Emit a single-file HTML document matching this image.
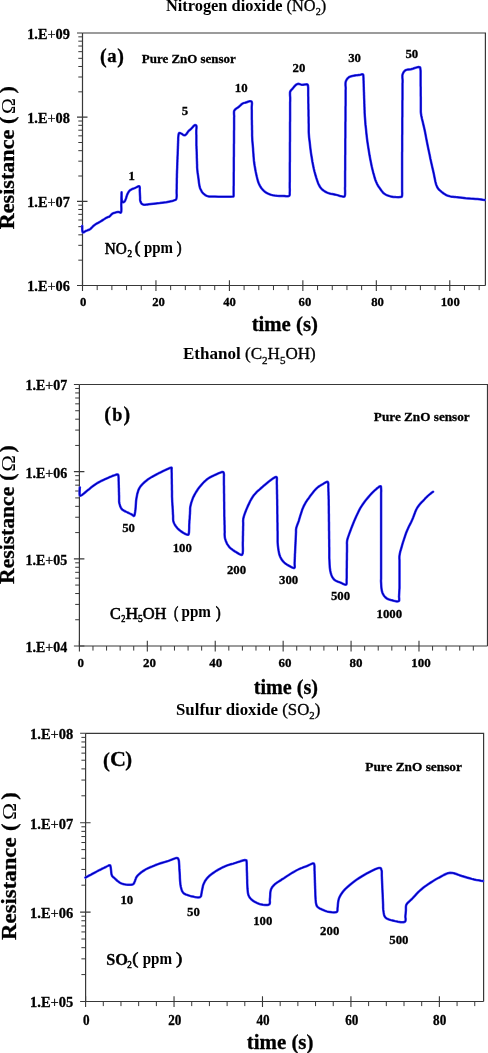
<!DOCTYPE html>
<html><head><meta charset="utf-8"><title>Gas sensor response of pure ZnO sensor</title>
<style>html,body{margin:0;padding:0;background:#fff;overflow:hidden;}svg{display:block;}text[font-weight="bold"]{stroke:#000;stroke-width:0.3px;}text.t{stroke:none;}</style></head>
<body><svg width="488" height="1053" viewBox="0 0 488 1053" font-family="'Liberation Serif', serif" fill="#000">
<rect width="488" height="1053" fill="#fff"/>
<path d="M82.5 33H485.4V285.5" fill="none" stroke="#383838" stroke-width="1.2"/>
<path d="M82.5 33V285.5H485.4" fill="none" stroke="#383838" stroke-width="1.2"/>
<path d="M77 285.5H87.5M77 201.33H87.5M77 117.17H87.5M77 33H82.5M82.5 280.3V291M155.95 280.3V291M229.41 280.3V291M302.86 280.3V291M376.32 280.3V291M449.77 280.3V291" fill="none" stroke="#383838" stroke-width="1.1"/>
<path d="M78.3 260.16H82.5M78.3 245.34H82.5M78.3 234.83H82.5M78.3 226.67H82.5M78.3 220.01H82.5M78.3 214.37H82.5M78.3 209.49H82.5M78.3 205.18H82.5M78.3 176H82.5M78.3 161.18H82.5M78.3 150.66H82.5M78.3 142.5H82.5M78.3 135.84H82.5M78.3 130.2H82.5M78.3 125.32H82.5M78.3 121.02H82.5M78.3 91.83H82.5M78.3 77.01H82.5M78.3 66.49H82.5M78.3 58.34H82.5M78.3 51.67H82.5M78.3 46.04H82.5M78.3 41.16H82.5M78.3 36.85H82.5M97.19 285.5V290.1M111.88 285.5V290.1M126.57 285.5V290.1M141.26 285.5V290.1M170.65 285.5V290.1M185.34 285.5V290.1M200.03 285.5V290.1M214.72 285.5V290.1M244.1 285.5V290.1M258.79 285.5V290.1M273.48 285.5V290.1M288.17 285.5V290.1M317.55 285.5V290.1M332.25 285.5V290.1M346.94 285.5V290.1M361.63 285.5V290.1M391.01 285.5V290.1M405.7 285.5V290.1M420.39 285.5V290.1M435.08 285.5V290.1M464.46 285.5V290.1M479.15 285.5V290.1" fill="none" stroke="#383838" stroke-width="1"/>
<text x="69.8" y="291.4" text-anchor="end" font-weight="bold" font-size="14.3">1.E<tspan font-weight="normal">+</tspan>06</text>
<text x="69.8" y="207.23" text-anchor="end" font-weight="bold" font-size="14.3">1.E<tspan font-weight="normal">+</tspan>07</text>
<text x="69.8" y="123.07" text-anchor="end" font-weight="bold" font-size="14.3">1.E<tspan font-weight="normal">+</tspan>08</text>
<text x="69.8" y="38.9" text-anchor="end" font-weight="bold" font-size="14.3">1.E<tspan font-weight="normal">+</tspan>09</text>
<text transform="translate(83.2,306.2) scale(0.95,1)" text-anchor="middle" font-weight="bold" font-size="13.4">0</text>
<text transform="translate(158.6,306.2) scale(0.95,1)" text-anchor="middle" font-weight="bold" font-size="13.4">20</text>
<text transform="translate(229.6,306.2) scale(0.95,1)" text-anchor="middle" font-weight="bold" font-size="13.4">40</text>
<text transform="translate(304.9,306.2) scale(0.95,1)" text-anchor="middle" font-weight="bold" font-size="13.4">60</text>
<text transform="translate(377.5,306.2) scale(0.95,1)" text-anchor="middle" font-weight="bold" font-size="13.4">80</text>
<text transform="translate(450.2,306.2) scale(0.95,1)" text-anchor="middle" font-weight="bold" font-size="13.4">100</text>
<polyline points="82.2,226.0 82.2,226.6 82.2,228.1 82.3,229.9 82.5,231.5 82.9,232.4 83.3,232.4 83.9,232.2 84.4,231.8 85.1,231.4 85.7,231.0 86.5,230.7 87.4,230.4 88.3,230.0 89.2,229.7 90,229.2 90.9,228.5 91.7,227.7 92.5,226.9 93.3,226.0 94.3,225.2 95.6,224.3 97.1,223.4 98.6,222.6 100.1,221.7 101.5,220.9 102.7,220.1 104,219.3 105.2,218.5 106.3,217.8 107.3,217.3 107.8,217.1 108.2,217.0 108.6,216.9 109,216.8 109.4,216.6 110,216.1 110.5,215.5 111.1,214.8 111.7,214.2 112.3,213.7 112.9,213.4 113.4,213.1 114,212.9 114.6,212.8 115.2,212.6 115.9,212.4 116.6,212.2 117.3,212.1 118,212.0 118.7,212.0 119.2,212.1 119.7,212.3 120.1,212.6 120.6,212.7 120.9,212.6 121.3,211.7 121.4,210.1 121.4,208.0 121.3,205.8 121.3,203.7 121.4,201.1 121.4,198.1 121.5,195.2 121.5,193.1 121.6,192.2 121.6,193.0 121.6,194.8 121.6,197.2 121.7,199.5 122,201.0 122.2,201.4 122.3,201.7 122.5,202.0 122.8,202.2 123,202.3 123.3,202.3 123.6,202.2 123.9,202.0 124.2,201.8 124.5,201.5 124.8,201.1 125.1,200.6 125.4,200.0 125.6,199.3 125.9,198.7 126.2,197.9 126.4,197.0 126.7,196.1 127,195.2 127.3,194.4 127.7,193.6 128.1,192.8 128.5,192.1 129,191.4 129.5,190.8 129.9,190.4 130.3,190.1 130.7,189.8 131.1,189.6 131.6,189.3 132.2,189.0 133,188.7 133.7,188.5 134.5,188.2 135.2,187.9 136,187.5 136.8,187.1 137.6,186.7 138.3,186.3 138.8,186.2 139,186.2 139.1,186.2 139.3,186.3 139.4,186.4 139.5,186.5 139.7,187.1 139.8,188.0 139.8,189.1 139.7,190.2 139.8,191.3 139.8,192.2 139.9,193.2 139.9,194.1 140,195.1 140,196.0 140.1,197.0 140.1,198.0 140.1,199.0 140.1,199.9 140.3,200.8 140.5,201.5 140.7,202.1 141,202.7 141.3,203.3 141.7,203.7 142,204.0 142.4,204.2 142.8,204.4 143.3,204.6 143.8,204.7 144.6,204.8 145.4,204.7 146.4,204.6 147.5,204.5 148.8,204.3 153.4,203.8 159.7,203.1 166.4,202.2 172.1,201.1 175.5,199.9 175.9,199.6 176.1,199.2 176.3,198.9 176.4,198.5 176.5,198.0 176.6,197.1 176.7,195.9 176.7,194.7 176.6,193.5 176.6,192.2 176.6,191.1 176.6,189.9 176.7,188.8 176.7,187.7 176.7,186.5 176.7,185.4 176.7,184.2 176.8,183.1 176.8,181.9 176.8,180.8 176.8,179.6 176.8,178.4 176.9,177.3 176.9,176.1 176.9,175.0 176.9,174.0 177,173.0 177,172.0 177,171.0 177.1,170.0 177.1,169.0 177.2,168.0 177.2,167.0 177.2,166.0 177.3,165.0 177.3,164.0 177.3,163.0 177.4,162.0 177.4,161.0 177.4,160.0 177.5,159.0 177.5,158.0 177.5,157.0 177.6,156.0 177.6,155.0 177.7,154.0 177.7,153.0 177.7,152.0 177.8,151.0 177.8,150.0 177.8,149.1 177.9,148.3 177.9,147.4 177.9,146.6 178,145.7 178,144.8 178,144.0 178.1,143.1 178.1,142.3 178.1,141.4 178.2,140.5 178.2,139.7 178.2,138.8 178.2,138.0 178.3,137.1 178.4,136.2 178.5,135.2 178.6,134.2 178.9,133.5 179.2,133.0 179.5,132.9 179.9,133.0 180.3,133.1 180.7,133.3 181.1,133.5 181.7,133.8 182.4,134.3 183.1,134.8 183.7,135.1 184.3,135.3 184.7,135.3 185.1,135.1 185.4,134.9 185.8,134.7 186.1,134.4 186.6,133.9 187,133.2 187.5,132.5 188,131.7 188.5,131.1 189,130.6 189.5,130.2 190.1,129.7 190.6,129.3 191.2,128.8 191.9,128.0 192.7,127.1 193.5,126.2 194.2,125.5 194.9,125.1 195.2,125.1 195.5,125.1 195.8,125.2 196.1,125.4 196.3,125.6 196.5,126.2 196.5,127.1 196.5,128.2 196.4,129.3 196.3,130.3 196.3,131.3 196.3,132.2 196.3,133.2 196.3,134.1 196.4,135.1 196.4,136.0 196.4,136.9 196.4,137.9 196.4,138.8 196.4,139.8 196.4,140.7 196.4,141.7 196.4,142.6 196.4,143.6 196.4,144.5 196.4,145.5 196.5,146.4 196.5,147.4 196.5,148.3 196.6,149.3 196.6,150.3 196.6,151.2 196.7,152.2 196.7,153.1 196.7,154.1 196.8,155.1 196.8,156.0 196.8,157.0 196.8,157.9 196.9,158.9 196.9,159.9 196.9,160.8 197,161.8 197,162.7 197,163.7 197.1,164.6 197.1,165.5 197.1,166.4 197.1,167.4 197.2,168.5 197.4,170.5 197.6,172.7 198,175.1 198.3,177.4 198.6,179.6 198.8,181.4 199,183.1 199.3,184.8 199.6,186.4 200,187.9 200.5,189.1 201.1,190.3 201.7,191.5 202.4,192.5 203.2,193.4 204,194.1 204.9,194.8 205.8,195.3 206.8,195.8 207.8,196.2 209.1,196.5 210.4,196.6 211.8,196.6 213.3,196.6 215,196.6 218.4,196.7 222.5,196.7 226.7,196.7 230.3,196.7 232.5,196.6 232.8,196.6 233,196.6 233.1,196.6 233.3,196.6 233.4,196.5 233.6,196.1 233.6,195.5 233.6,194.7 233.6,193.8 233.6,193.0 233.6,192.0 233.6,190.9 233.6,189.8 233.6,188.7 233.6,187.6 233.6,186.6 233.7,185.5 233.7,184.4 233.7,183.3 233.7,182.2 233.7,181.2 233.7,180.1 233.7,179.0 233.7,177.9 233.7,176.9 233.7,175.8 233.7,174.7 233.7,173.7 233.7,172.6 233.8,171.5 233.8,170.4 233.8,169.4 233.8,168.3 233.8,167.2 233.8,166.1 233.8,165.0 233.8,164.0 233.8,162.9 233.8,161.8 233.8,160.8 233.8,159.7 233.8,158.6 233.8,157.5 233.9,156.4 233.9,155.4 233.9,154.3 233.9,153.2 233.9,152.2 233.9,151.1 233.9,150.0 233.9,148.9 233.9,147.8 233.9,146.6 233.9,145.5 233.9,144.4 234,143.3 234,142.2 234,141.0 234,139.9 234,138.8 234,137.7 234,136.6 234,135.4 234,134.3 234,133.2 234,132.1 234,131.0 234.1,129.8 234.1,128.7 234.1,127.6 234.1,126.5 234.1,125.4 234.1,124.2 234.1,123.1 234.1,122.0 234.1,120.9 234.1,119.8 234.1,118.6 234.1,117.5 234.2,116.4 234.1,115.2 234,114.0 234,112.8 234,111.7 234.2,110.8 234.5,110.3 234.8,109.9 235.2,109.5 235.6,109.1 236,108.8 236.4,108.5 236.8,108.2 237.2,108.0 237.6,107.7 238.1,107.4 238.9,106.7 239.8,105.9 240.8,105.0 241.7,104.1 242.7,103.5 243.5,103.1 244.3,102.9 245.1,102.7 245.8,102.5 246.6,102.3 247.3,102.0 248,101.7 248.7,101.5 249.4,101.3 250,101.2 250.4,101.2 250.8,101.3 251.1,101.4 251.4,101.5 251.7,101.8 251.9,102.5 252,103.5 251.9,104.7 251.8,105.9 251.7,107.0 251.7,108.1 251.7,109.1 251.8,110.2 251.8,111.2 251.8,112.3 251.8,113.3 251.8,114.4 251.8,115.4 251.8,116.5 251.8,117.5 251.8,118.5 251.8,119.5 251.9,120.5 251.9,121.6 251.9,122.6 251.9,123.6 251.9,124.6 252,125.6 252,126.6 252,127.7 252,128.7 252,129.7 252.1,130.7 252.1,131.7 252.1,132.7 252.1,133.7 252.1,134.7 252.1,135.8 252.2,136.8 252.2,137.8 252.3,138.9 252.3,140.0 252.4,141.2 252.5,142.3 252.6,143.5 252.7,144.6 252.8,145.7 252.9,146.8 253,148.0 253.1,149.1 253.1,150.2 253.2,151.4 253.3,152.5 253.4,153.6 253.5,154.8 253.5,155.8 253.6,156.9 253.7,158.0 253.8,159.1 253.9,160.4 254.2,162.8 254.6,165.5 255.1,168.3 255.6,171.2 256.2,173.9 256.7,176.3 257.3,178.7 257.9,181.0 258.7,183.2 259.6,185.2 260.5,186.8 261.5,188.3 262.7,189.7 263.9,190.9 265.2,192.0 266.6,192.9 268.1,193.7 269.7,194.3 271.4,194.9 273.1,195.3 275,195.6 277.1,195.8 279.1,195.9 281.1,195.9 283,195.9 284.4,196.0 285.9,196.2 287.2,196.3 288.4,196.2 289.2,195.9 289.5,195.4 289.7,194.8 289.7,194.0 289.7,193.2 289.7,192.4 289.8,191.3 289.8,190.1 289.8,188.9 289.7,187.7 289.7,186.5 289.7,185.3 289.7,184.1 289.7,182.9 289.8,181.7 289.8,180.5 289.8,179.4 289.8,178.2 289.8,177.0 289.8,175.8 289.8,174.6 289.8,173.4 289.8,172.2 289.8,171.1 289.8,169.9 289.8,168.7 289.8,167.5 289.8,166.3 289.8,165.1 289.8,163.9 289.8,162.8 289.9,161.6 289.9,160.4 289.9,159.2 289.9,158.0 289.9,156.8 289.9,155.6 289.9,154.5 289.9,153.3 289.9,152.1 289.9,150.9 289.9,149.7 289.9,148.5 289.9,147.3 289.9,146.2 289.9,145.0 289.9,143.8 289.9,142.6 290,141.4 290,140.2 290,139.0 290,137.8 290,136.7 290,135.5 290,134.3 290,133.1 290,131.9 290,130.7 290,129.5 290,128.4 290,127.2 290,126.0 290,124.8 290,123.6 290,122.4 290.1,121.2 290.1,120.1 290.1,118.9 290.1,117.7 290.1,116.5 290.1,115.3 290.1,114.1 290.1,112.9 290.1,111.8 290.1,110.6 290.1,109.4 290.1,108.2 290.1,107.0 290.1,105.8 290.1,104.6 290.1,103.5 290.1,102.3 290.2,101.1 290.2,99.9 290.2,98.7 290.2,97.5 290.1,96.3 290,95.0 290,93.8 290,92.6 290.2,91.6 290.5,91.0 290.8,90.6 291.2,90.1 291.6,89.7 292.1,89.2 292.8,88.4 293.5,87.5 294.3,86.5 295.1,85.7 295.8,85.0 296.3,84.6 296.8,84.3 297.3,84.1 297.8,83.9 298.3,83.8 299,83.9 299.7,84.1 300.4,84.4 301.2,84.6 302,84.8 303.1,84.8 304.3,84.6 305.6,84.4 306.6,84.3 307.4,84.5 307.7,84.8 307.9,85.2 308,85.6 308,86.2 308.1,86.7 308.2,87.7 308.2,88.8 308.2,90.1 308.2,91.3 308.2,92.5 308.2,93.7 308.2,94.9 308.2,96.0 308.3,97.2 308.3,98.4 308.3,99.5 308.3,100.7 308.3,101.9 308.3,103.0 308.4,104.2 308.4,105.4 308.4,106.5 308.4,107.7 308.4,108.9 308.5,110.1 308.5,111.2 308.5,112.4 308.5,113.6 308.5,114.7 308.5,115.9 308.6,117.1 308.6,118.2 308.6,119.4 308.6,120.6 308.6,121.7 308.6,122.9 308.7,124.1 308.7,125.2 308.7,126.4 308.7,127.6 308.7,128.7 308.7,129.7 308.7,130.8 308.7,132.0 308.8,133.4 309.1,137.3 309.7,142.2 310.3,147.7 311,153.1 311.8,158.0 312.4,161.7 313.1,165.3 313.8,168.7 314.6,172.0 315.5,175.2 316.3,177.9 317.2,180.6 318.1,183.2 319.2,185.5 320.4,187.5 321.5,188.8 322.6,189.9 323.9,190.8 325.2,191.6 326.6,192.4 328.4,193.1 330.4,193.7 332.4,194.1 334.5,194.5 336.4,194.9 338.2,195.4 340,196.0 341.8,196.4 343.3,196.7 344.3,196.6 344.6,196.4 344.7,196.1 344.8,195.8 344.9,195.4 345,195.0 345.1,194.1 345.1,192.9 345.1,191.6 345.1,190.3 345,189.0 345,187.9 345.1,186.7 345.1,185.5 345.1,184.3 345.1,183.1 345.1,181.9 345.1,180.7 345.1,179.5 345.1,178.3 345.1,177.1 345.1,175.9 345.1,174.7 345.1,173.6 345.1,172.4 345.1,171.2 345.2,170.0 345.2,168.8 345.2,167.6 345.2,166.4 345.2,165.2 345.2,164.0 345.2,162.8 345.2,161.6 345.2,160.4 345.2,159.3 345.2,158.1 345.2,156.9 345.2,155.7 345.3,154.5 345.3,153.3 345.3,152.1 345.3,150.9 345.3,149.7 345.3,148.5 345.3,147.3 345.3,146.1 345.3,145.0 345.3,143.8 345.3,142.6 345.3,141.4 345.3,140.2 345.3,139.0 345.4,137.8 345.4,136.6 345.4,135.4 345.4,134.2 345.4,133.0 345.4,131.8 345.4,130.7 345.4,129.5 345.4,128.3 345.4,127.1 345.4,125.9 345.4,124.7 345.4,123.5 345.4,122.3 345.5,121.1 345.5,119.9 345.5,118.7 345.5,117.5 345.5,116.4 345.5,115.2 345.5,114.0 345.5,112.8 345.5,111.6 345.5,110.4 345.5,109.2 345.5,108.0 345.5,106.8 345.6,105.6 345.6,104.4 345.6,103.2 345.6,102.1 345.6,100.9 345.6,99.7 345.6,98.5 345.6,97.3 345.6,96.1 345.6,94.9 345.6,93.7 345.6,92.5 345.6,91.3 345.6,90.1 345.7,88.9 345.7,87.8 345.6,86.5 345.5,85.3 345.5,84.1 345.5,82.9 345.7,81.8 346.1,80.8 346.6,79.8 347.2,78.9 347.9,78.1 348.7,77.4 349.5,76.9 350.5,76.5 351.5,76.2 352.5,75.9 353.6,75.7 354.8,75.5 356.1,75.3 357.4,75.2 358.6,75.0 359.7,74.9 360.5,74.7 361.2,74.5 361.9,74.3 362.6,74.3 363,74.4 363.2,74.7 363.3,75.2 363.4,75.7 363.4,76.3 363.4,76.9 363.5,77.8 363.5,78.9 363.5,80.0 363.6,81.1 363.6,82.2 363.6,83.2 363.7,84.3 363.7,85.3 363.7,86.4 363.8,87.4 363.8,88.5 363.8,89.6 363.9,90.6 363.9,91.7 364,92.7 364,93.8 364,94.8 364.1,95.9 364.1,96.9 364.1,98.0 364.2,99.0 364.2,100.1 364.3,101.1 364.3,102.2 364.3,103.3 364.4,104.3 364.4,105.4 364.4,106.4 364.5,107.5 364.5,108.5 364.5,109.5 364.6,110.5 364.6,111.5 364.6,112.5 364.7,113.8 364.9,116.9 365.2,120.7 365.5,124.9 366,129.2 366.4,133.4 366.9,137.8 367.5,142.3 368.2,146.9 368.9,151.3 369.6,155.6 370.3,159.3 371,162.8 371.7,166.3 372.5,169.7 373.3,172.8 374,175.2 374.6,177.5 375.3,179.7 376.1,181.8 377,183.8 377.9,185.5 378.9,187.1 380,188.6 381,190.0 381.9,191.2 382.4,191.8 382.8,192.4 383.3,192.9 383.8,193.3 384.4,193.8 385.5,194.5 386.7,195.1 388.1,195.6 389.6,196.1 391.1,196.5 393.3,196.9 395.8,197.1 398.3,197.2 400.4,197.1 401.7,196.7 401.9,196.4 402,196.1 402.1,195.7 402.1,195.3 402.1,194.9 402.2,194.0 402.2,192.8 402.1,191.6 402.1,190.4 402.1,189.2 402.1,188.0 402.1,186.9 402.1,185.8 402.1,184.6 402.1,183.5 402.1,182.3 402.1,181.2 402.1,180.0 402.1,178.9 402.1,177.8 402.1,176.6 402.1,175.5 402.1,174.3 402.1,173.2 402.1,172.0 402.1,170.9 402.1,169.7 402.1,168.6 402.1,167.5 402.1,166.3 402.1,165.2 402.1,164.0 402.1,162.9 402.1,161.7 402.1,160.6 402.1,159.5 402.1,158.3 402.1,157.1 402.1,156.0 402.1,154.8 402.1,153.7 402.1,152.5 402.2,151.4 402.2,150.2 402.2,149.1 402.2,147.9 402.2,146.8 402.2,145.6 402.2,144.5 402.2,143.3 402.2,142.2 402.2,141.0 402.2,139.9 402.2,138.7 402.2,137.6 402.2,136.4 402.2,135.3 402.3,134.1 402.3,133.0 402.3,131.8 402.3,130.7 402.3,129.5 402.3,128.4 402.3,127.2 402.3,126.1 402.3,124.9 402.3,123.8 402.3,122.6 402.3,121.5 402.3,120.3 402.3,119.2 402.3,118.0 402.4,116.9 402.4,115.7 402.4,114.6 402.4,113.4 402.4,112.3 402.4,111.1 402.4,110.0 402.4,108.8 402.4,107.7 402.4,106.5 402.4,105.4 402.4,104.2 402.4,103.1 402.4,101.9 402.4,100.8 402.5,99.6 402.5,98.5 402.5,97.3 402.5,96.2 402.5,95.0 402.5,93.9 402.5,92.7 402.5,91.6 402.5,90.4 402.5,89.3 402.5,88.1 402.5,87.0 402.5,85.8 402.5,84.7 402.5,83.5 402.6,82.4 402.6,81.2 402.6,80.1 402.5,78.9 402.4,77.7 402.4,76.5 402.4,75.4 402.6,74.3 403,73.4 403.4,72.5 404,71.6 404.7,70.9 405.4,70.3 406.3,69.9 407.4,69.6 408.5,69.5 409.8,69.4 411,69.2 412.8,68.7 414.8,68.0 416.9,67.4 418.6,67.0 419.8,67.2 420.1,67.5 420.3,68.0 420.4,68.6 420.4,69.3 420.5,69.9 420.6,70.9 420.6,71.9 420.6,73.0 420.6,74.2 420.6,75.3 420.6,76.4 420.6,77.4 420.6,78.5 420.6,79.6 420.6,80.7 420.6,81.8 420.6,82.8 420.6,83.9 420.6,85.0 420.6,86.1 420.7,87.1 420.7,88.2 420.7,89.3 420.7,90.4 420.7,91.4 420.7,92.5 420.7,93.6 420.7,94.7 420.7,95.8 420.8,96.8 420.8,97.9 420.8,99.0 420.8,100.1 420.8,101.1 420.8,102.2 420.8,103.3 420.8,104.4 420.8,105.5 420.8,106.5 420.8,107.6 420.8,108.6 420.8,109.6 420.8,110.7 420.8,111.8 420.9,113.0 421.3,115.5 421.9,118.5 422.7,121.7 423.5,125.1 424.3,128.5 425.2,132.7 426,137.1 426.9,141.7 427.8,146.2 428.7,150.6 429.6,154.7 430.4,158.8 431.3,162.8 432.2,166.8 433.1,170.6 433.9,174.2 434.6,177.8 435.3,181.3 436.1,184.4 437.1,186.9 437.7,188.0 438.4,188.9 439.1,189.7 439.9,190.4 440.7,191.1 441.6,191.9 442.5,192.6 443.5,193.4 444.5,194.0 445.5,194.6 446.4,195.1 447.3,195.5 448.2,195.8 449.2,196.1 450.2,196.4 451.5,196.7 452.9,196.8 454.3,196.9 455.8,197.1 457.3,197.2 458.9,197.4 460.5,197.6 462.2,197.8 463.9,198.0 465.7,198.2 468,198.4 470.5,198.6 473,198.7 475.4,198.9 477.6,199.1 479.4,199.3 481.3,199.5 483,199.8 484.2,199.9 484.7,200.0" fill="none" stroke="#3c3cff" stroke-width="2.5" stroke-linejoin="round" stroke-linecap="round"/>
<polyline points="82.2,226.0 82.2,226.6 82.2,228.1 82.3,229.9 82.5,231.5 82.9,232.4 83.3,232.4 83.9,232.2 84.4,231.8 85.1,231.4 85.7,231.0 86.5,230.7 87.4,230.4 88.3,230.0 89.2,229.7 90,229.2 90.9,228.5 91.7,227.7 92.5,226.9 93.3,226.0 94.3,225.2 95.6,224.3 97.1,223.4 98.6,222.6 100.1,221.7 101.5,220.9 102.7,220.1 104,219.3 105.2,218.5 106.3,217.8 107.3,217.3 107.8,217.1 108.2,217.0 108.6,216.9 109,216.8 109.4,216.6 110,216.1 110.5,215.5 111.1,214.8 111.7,214.2 112.3,213.7 112.9,213.4 113.4,213.1 114,212.9 114.6,212.8 115.2,212.6 115.9,212.4 116.6,212.2 117.3,212.1 118,212.0 118.7,212.0 119.2,212.1 119.7,212.3 120.1,212.6 120.6,212.7 120.9,212.6 121.3,211.7 121.4,210.1 121.4,208.0 121.3,205.8 121.3,203.7 121.4,201.1 121.4,198.1 121.5,195.2 121.5,193.1 121.6,192.2 121.6,193.0 121.6,194.8 121.6,197.2 121.7,199.5 122,201.0 122.2,201.4 122.3,201.7 122.5,202.0 122.8,202.2 123,202.3 123.3,202.3 123.6,202.2 123.9,202.0 124.2,201.8 124.5,201.5 124.8,201.1 125.1,200.6 125.4,200.0 125.6,199.3 125.9,198.7 126.2,197.9 126.4,197.0 126.7,196.1 127,195.2 127.3,194.4 127.7,193.6 128.1,192.8 128.5,192.1 129,191.4 129.5,190.8 129.9,190.4 130.3,190.1 130.7,189.8 131.1,189.6 131.6,189.3 132.2,189.0 133,188.7 133.7,188.5 134.5,188.2 135.2,187.9 136,187.5 136.8,187.1 137.6,186.7 138.3,186.3 138.8,186.2 139,186.2 139.1,186.2 139.3,186.3 139.4,186.4 139.5,186.5 139.7,187.1 139.8,188.0 139.8,189.1 139.7,190.2 139.8,191.3 139.8,192.2 139.9,193.2 139.9,194.1 140,195.1 140,196.0 140.1,197.0 140.1,198.0 140.1,199.0 140.1,199.9 140.3,200.8 140.5,201.5 140.7,202.1 141,202.7 141.3,203.3 141.7,203.7 142,204.0 142.4,204.2 142.8,204.4 143.3,204.6 143.8,204.7 144.6,204.8 145.4,204.7 146.4,204.6 147.5,204.5 148.8,204.3 153.4,203.8 159.7,203.1 166.4,202.2 172.1,201.1 175.5,199.9 175.9,199.6 176.1,199.2 176.3,198.9 176.4,198.5 176.5,198.0 176.6,197.1 176.7,195.9 176.7,194.7 176.6,193.5 176.6,192.2 176.6,191.1 176.6,189.9 176.7,188.8 176.7,187.7 176.7,186.5 176.7,185.4 176.7,184.2 176.8,183.1 176.8,181.9 176.8,180.8 176.8,179.6 176.8,178.4 176.9,177.3 176.9,176.1 176.9,175.0 176.9,174.0 177,173.0 177,172.0 177,171.0 177.1,170.0 177.1,169.0 177.2,168.0 177.2,167.0 177.2,166.0 177.3,165.0 177.3,164.0 177.3,163.0 177.4,162.0 177.4,161.0 177.4,160.0 177.5,159.0 177.5,158.0 177.5,157.0 177.6,156.0 177.6,155.0 177.7,154.0 177.7,153.0 177.7,152.0 177.8,151.0 177.8,150.0 177.8,149.1 177.9,148.3 177.9,147.4 177.9,146.6 178,145.7 178,144.8 178,144.0 178.1,143.1 178.1,142.3 178.1,141.4 178.2,140.5 178.2,139.7 178.2,138.8 178.2,138.0 178.3,137.1 178.4,136.2 178.5,135.2 178.6,134.2 178.9,133.5 179.2,133.0 179.5,132.9 179.9,133.0 180.3,133.1 180.7,133.3 181.1,133.5 181.7,133.8 182.4,134.3 183.1,134.8 183.7,135.1 184.3,135.3 184.7,135.3 185.1,135.1 185.4,134.9 185.8,134.7 186.1,134.4 186.6,133.9 187,133.2 187.5,132.5 188,131.7 188.5,131.1 189,130.6 189.5,130.2 190.1,129.7 190.6,129.3 191.2,128.8 191.9,128.0 192.7,127.1 193.5,126.2 194.2,125.5 194.9,125.1 195.2,125.1 195.5,125.1 195.8,125.2 196.1,125.4 196.3,125.6 196.5,126.2 196.5,127.1 196.5,128.2 196.4,129.3 196.3,130.3 196.3,131.3 196.3,132.2 196.3,133.2 196.3,134.1 196.4,135.1 196.4,136.0 196.4,136.9 196.4,137.9 196.4,138.8 196.4,139.8 196.4,140.7 196.4,141.7 196.4,142.6 196.4,143.6 196.4,144.5 196.4,145.5 196.5,146.4 196.5,147.4 196.5,148.3 196.6,149.3 196.6,150.3 196.6,151.2 196.7,152.2 196.7,153.1 196.7,154.1 196.8,155.1 196.8,156.0 196.8,157.0 196.8,157.9 196.9,158.9 196.9,159.9 196.9,160.8 197,161.8 197,162.7 197,163.7 197.1,164.6 197.1,165.5 197.1,166.4 197.1,167.4 197.2,168.5 197.4,170.5 197.6,172.7 198,175.1 198.3,177.4 198.6,179.6 198.8,181.4 199,183.1 199.3,184.8 199.6,186.4 200,187.9 200.5,189.1 201.1,190.3 201.7,191.5 202.4,192.5 203.2,193.4 204,194.1 204.9,194.8 205.8,195.3 206.8,195.8 207.8,196.2 209.1,196.5 210.4,196.6 211.8,196.6 213.3,196.6 215,196.6 218.4,196.7 222.5,196.7 226.7,196.7 230.3,196.7 232.5,196.6 232.8,196.6 233,196.6 233.1,196.6 233.3,196.6 233.4,196.5 233.6,196.1 233.6,195.5 233.6,194.7 233.6,193.8 233.6,193.0 233.6,192.0 233.6,190.9 233.6,189.8 233.6,188.7 233.6,187.6 233.6,186.6 233.7,185.5 233.7,184.4 233.7,183.3 233.7,182.2 233.7,181.2 233.7,180.1 233.7,179.0 233.7,177.9 233.7,176.9 233.7,175.8 233.7,174.7 233.7,173.7 233.7,172.6 233.8,171.5 233.8,170.4 233.8,169.4 233.8,168.3 233.8,167.2 233.8,166.1 233.8,165.0 233.8,164.0 233.8,162.9 233.8,161.8 233.8,160.8 233.8,159.7 233.8,158.6 233.8,157.5 233.9,156.4 233.9,155.4 233.9,154.3 233.9,153.2 233.9,152.2 233.9,151.1 233.9,150.0 233.9,148.9 233.9,147.8 233.9,146.6 233.9,145.5 233.9,144.4 234,143.3 234,142.2 234,141.0 234,139.9 234,138.8 234,137.7 234,136.6 234,135.4 234,134.3 234,133.2 234,132.1 234,131.0 234.1,129.8 234.1,128.7 234.1,127.6 234.1,126.5 234.1,125.4 234.1,124.2 234.1,123.1 234.1,122.0 234.1,120.9 234.1,119.8 234.1,118.6 234.1,117.5 234.2,116.4 234.1,115.2 234,114.0 234,112.8 234,111.7 234.2,110.8 234.5,110.3 234.8,109.9 235.2,109.5 235.6,109.1 236,108.8 236.4,108.5 236.8,108.2 237.2,108.0 237.6,107.7 238.1,107.4 238.9,106.7 239.8,105.9 240.8,105.0 241.7,104.1 242.7,103.5 243.5,103.1 244.3,102.9 245.1,102.7 245.8,102.5 246.6,102.3 247.3,102.0 248,101.7 248.7,101.5 249.4,101.3 250,101.2 250.4,101.2 250.8,101.3 251.1,101.4 251.4,101.5 251.7,101.8 251.9,102.5 252,103.5 251.9,104.7 251.8,105.9 251.7,107.0 251.7,108.1 251.7,109.1 251.8,110.2 251.8,111.2 251.8,112.3 251.8,113.3 251.8,114.4 251.8,115.4 251.8,116.5 251.8,117.5 251.8,118.5 251.8,119.5 251.9,120.5 251.9,121.6 251.9,122.6 251.9,123.6 251.9,124.6 252,125.6 252,126.6 252,127.7 252,128.7 252,129.7 252.1,130.7 252.1,131.7 252.1,132.7 252.1,133.7 252.1,134.7 252.1,135.8 252.2,136.8 252.2,137.8 252.3,138.9 252.3,140.0 252.4,141.2 252.5,142.3 252.6,143.5 252.7,144.6 252.8,145.7 252.9,146.8 253,148.0 253.1,149.1 253.1,150.2 253.2,151.4 253.3,152.5 253.4,153.6 253.5,154.8 253.5,155.8 253.6,156.9 253.7,158.0 253.8,159.1 253.9,160.4 254.2,162.8 254.6,165.5 255.1,168.3 255.6,171.2 256.2,173.9 256.7,176.3 257.3,178.7 257.9,181.0 258.7,183.2 259.6,185.2 260.5,186.8 261.5,188.3 262.7,189.7 263.9,190.9 265.2,192.0 266.6,192.9 268.1,193.7 269.7,194.3 271.4,194.9 273.1,195.3 275,195.6 277.1,195.8 279.1,195.9 281.1,195.9 283,195.9 284.4,196.0 285.9,196.2 287.2,196.3 288.4,196.2 289.2,195.9 289.5,195.4 289.7,194.8 289.7,194.0 289.7,193.2 289.7,192.4 289.8,191.3 289.8,190.1 289.8,188.9 289.7,187.7 289.7,186.5 289.7,185.3 289.7,184.1 289.7,182.9 289.8,181.7 289.8,180.5 289.8,179.4 289.8,178.2 289.8,177.0 289.8,175.8 289.8,174.6 289.8,173.4 289.8,172.2 289.8,171.1 289.8,169.9 289.8,168.7 289.8,167.5 289.8,166.3 289.8,165.1 289.8,163.9 289.8,162.8 289.9,161.6 289.9,160.4 289.9,159.2 289.9,158.0 289.9,156.8 289.9,155.6 289.9,154.5 289.9,153.3 289.9,152.1 289.9,150.9 289.9,149.7 289.9,148.5 289.9,147.3 289.9,146.2 289.9,145.0 289.9,143.8 289.9,142.6 290,141.4 290,140.2 290,139.0 290,137.8 290,136.7 290,135.5 290,134.3 290,133.1 290,131.9 290,130.7 290,129.5 290,128.4 290,127.2 290,126.0 290,124.8 290,123.6 290,122.4 290.1,121.2 290.1,120.1 290.1,118.9 290.1,117.7 290.1,116.5 290.1,115.3 290.1,114.1 290.1,112.9 290.1,111.8 290.1,110.6 290.1,109.4 290.1,108.2 290.1,107.0 290.1,105.8 290.1,104.6 290.1,103.5 290.1,102.3 290.2,101.1 290.2,99.9 290.2,98.7 290.2,97.5 290.1,96.3 290,95.0 290,93.8 290,92.6 290.2,91.6 290.5,91.0 290.8,90.6 291.2,90.1 291.6,89.7 292.1,89.2 292.8,88.4 293.5,87.5 294.3,86.5 295.1,85.7 295.8,85.0 296.3,84.6 296.8,84.3 297.3,84.1 297.8,83.9 298.3,83.8 299,83.9 299.7,84.1 300.4,84.4 301.2,84.6 302,84.8 303.1,84.8 304.3,84.6 305.6,84.4 306.6,84.3 307.4,84.5 307.7,84.8 307.9,85.2 308,85.6 308,86.2 308.1,86.7 308.2,87.7 308.2,88.8 308.2,90.1 308.2,91.3 308.2,92.5 308.2,93.7 308.2,94.9 308.2,96.0 308.3,97.2 308.3,98.4 308.3,99.5 308.3,100.7 308.3,101.9 308.3,103.0 308.4,104.2 308.4,105.4 308.4,106.5 308.4,107.7 308.4,108.9 308.5,110.1 308.5,111.2 308.5,112.4 308.5,113.6 308.5,114.7 308.5,115.9 308.6,117.1 308.6,118.2 308.6,119.4 308.6,120.6 308.6,121.7 308.6,122.9 308.7,124.1 308.7,125.2 308.7,126.4 308.7,127.6 308.7,128.7 308.7,129.7 308.7,130.8 308.7,132.0 308.8,133.4 309.1,137.3 309.7,142.2 310.3,147.7 311,153.1 311.8,158.0 312.4,161.7 313.1,165.3 313.8,168.7 314.6,172.0 315.5,175.2 316.3,177.9 317.2,180.6 318.1,183.2 319.2,185.5 320.4,187.5 321.5,188.8 322.6,189.9 323.9,190.8 325.2,191.6 326.6,192.4 328.4,193.1 330.4,193.7 332.4,194.1 334.5,194.5 336.4,194.9 338.2,195.4 340,196.0 341.8,196.4 343.3,196.7 344.3,196.6 344.6,196.4 344.7,196.1 344.8,195.8 344.9,195.4 345,195.0 345.1,194.1 345.1,192.9 345.1,191.6 345.1,190.3 345,189.0 345,187.9 345.1,186.7 345.1,185.5 345.1,184.3 345.1,183.1 345.1,181.9 345.1,180.7 345.1,179.5 345.1,178.3 345.1,177.1 345.1,175.9 345.1,174.7 345.1,173.6 345.1,172.4 345.1,171.2 345.2,170.0 345.2,168.8 345.2,167.6 345.2,166.4 345.2,165.2 345.2,164.0 345.2,162.8 345.2,161.6 345.2,160.4 345.2,159.3 345.2,158.1 345.2,156.9 345.2,155.7 345.3,154.5 345.3,153.3 345.3,152.1 345.3,150.9 345.3,149.7 345.3,148.5 345.3,147.3 345.3,146.1 345.3,145.0 345.3,143.8 345.3,142.6 345.3,141.4 345.3,140.2 345.3,139.0 345.4,137.8 345.4,136.6 345.4,135.4 345.4,134.2 345.4,133.0 345.4,131.8 345.4,130.7 345.4,129.5 345.4,128.3 345.4,127.1 345.4,125.9 345.4,124.7 345.4,123.5 345.4,122.3 345.5,121.1 345.5,119.9 345.5,118.7 345.5,117.5 345.5,116.4 345.5,115.2 345.5,114.0 345.5,112.8 345.5,111.6 345.5,110.4 345.5,109.2 345.5,108.0 345.5,106.8 345.6,105.6 345.6,104.4 345.6,103.2 345.6,102.1 345.6,100.9 345.6,99.7 345.6,98.5 345.6,97.3 345.6,96.1 345.6,94.9 345.6,93.7 345.6,92.5 345.6,91.3 345.6,90.1 345.7,88.9 345.7,87.8 345.6,86.5 345.5,85.3 345.5,84.1 345.5,82.9 345.7,81.8 346.1,80.8 346.6,79.8 347.2,78.9 347.9,78.1 348.7,77.4 349.5,76.9 350.5,76.5 351.5,76.2 352.5,75.9 353.6,75.7 354.8,75.5 356.1,75.3 357.4,75.2 358.6,75.0 359.7,74.9 360.5,74.7 361.2,74.5 361.9,74.3 362.6,74.3 363,74.4 363.2,74.7 363.3,75.2 363.4,75.7 363.4,76.3 363.4,76.9 363.5,77.8 363.5,78.9 363.5,80.0 363.6,81.1 363.6,82.2 363.6,83.2 363.7,84.3 363.7,85.3 363.7,86.4 363.8,87.4 363.8,88.5 363.8,89.6 363.9,90.6 363.9,91.7 364,92.7 364,93.8 364,94.8 364.1,95.9 364.1,96.9 364.1,98.0 364.2,99.0 364.2,100.1 364.3,101.1 364.3,102.2 364.3,103.3 364.4,104.3 364.4,105.4 364.4,106.4 364.5,107.5 364.5,108.5 364.5,109.5 364.6,110.5 364.6,111.5 364.6,112.5 364.7,113.8 364.9,116.9 365.2,120.7 365.5,124.9 366,129.2 366.4,133.4 366.9,137.8 367.5,142.3 368.2,146.9 368.9,151.3 369.6,155.6 370.3,159.3 371,162.8 371.7,166.3 372.5,169.7 373.3,172.8 374,175.2 374.6,177.5 375.3,179.7 376.1,181.8 377,183.8 377.9,185.5 378.9,187.1 380,188.6 381,190.0 381.9,191.2 382.4,191.8 382.8,192.4 383.3,192.9 383.8,193.3 384.4,193.8 385.5,194.5 386.7,195.1 388.1,195.6 389.6,196.1 391.1,196.5 393.3,196.9 395.8,197.1 398.3,197.2 400.4,197.1 401.7,196.7 401.9,196.4 402,196.1 402.1,195.7 402.1,195.3 402.1,194.9 402.2,194.0 402.2,192.8 402.1,191.6 402.1,190.4 402.1,189.2 402.1,188.0 402.1,186.9 402.1,185.8 402.1,184.6 402.1,183.5 402.1,182.3 402.1,181.2 402.1,180.0 402.1,178.9 402.1,177.8 402.1,176.6 402.1,175.5 402.1,174.3 402.1,173.2 402.1,172.0 402.1,170.9 402.1,169.7 402.1,168.6 402.1,167.5 402.1,166.3 402.1,165.2 402.1,164.0 402.1,162.9 402.1,161.7 402.1,160.6 402.1,159.5 402.1,158.3 402.1,157.1 402.1,156.0 402.1,154.8 402.1,153.7 402.1,152.5 402.2,151.4 402.2,150.2 402.2,149.1 402.2,147.9 402.2,146.8 402.2,145.6 402.2,144.5 402.2,143.3 402.2,142.2 402.2,141.0 402.2,139.9 402.2,138.7 402.2,137.6 402.2,136.4 402.2,135.3 402.3,134.1 402.3,133.0 402.3,131.8 402.3,130.7 402.3,129.5 402.3,128.4 402.3,127.2 402.3,126.1 402.3,124.9 402.3,123.8 402.3,122.6 402.3,121.5 402.3,120.3 402.3,119.2 402.3,118.0 402.4,116.9 402.4,115.7 402.4,114.6 402.4,113.4 402.4,112.3 402.4,111.1 402.4,110.0 402.4,108.8 402.4,107.7 402.4,106.5 402.4,105.4 402.4,104.2 402.4,103.1 402.4,101.9 402.4,100.8 402.5,99.6 402.5,98.5 402.5,97.3 402.5,96.2 402.5,95.0 402.5,93.9 402.5,92.7 402.5,91.6 402.5,90.4 402.5,89.3 402.5,88.1 402.5,87.0 402.5,85.8 402.5,84.7 402.5,83.5 402.6,82.4 402.6,81.2 402.6,80.1 402.5,78.9 402.4,77.7 402.4,76.5 402.4,75.4 402.6,74.3 403,73.4 403.4,72.5 404,71.6 404.7,70.9 405.4,70.3 406.3,69.9 407.4,69.6 408.5,69.5 409.8,69.4 411,69.2 412.8,68.7 414.8,68.0 416.9,67.4 418.6,67.0 419.8,67.2 420.1,67.5 420.3,68.0 420.4,68.6 420.4,69.3 420.5,69.9 420.6,70.9 420.6,71.9 420.6,73.0 420.6,74.2 420.6,75.3 420.6,76.4 420.6,77.4 420.6,78.5 420.6,79.6 420.6,80.7 420.6,81.8 420.6,82.8 420.6,83.9 420.6,85.0 420.6,86.1 420.7,87.1 420.7,88.2 420.7,89.3 420.7,90.4 420.7,91.4 420.7,92.5 420.7,93.6 420.7,94.7 420.7,95.8 420.8,96.8 420.8,97.9 420.8,99.0 420.8,100.1 420.8,101.1 420.8,102.2 420.8,103.3 420.8,104.4 420.8,105.5 420.8,106.5 420.8,107.6 420.8,108.6 420.8,109.6 420.8,110.7 420.8,111.8 420.9,113.0 421.3,115.5 421.9,118.5 422.7,121.7 423.5,125.1 424.3,128.5 425.2,132.7 426,137.1 426.9,141.7 427.8,146.2 428.7,150.6 429.6,154.7 430.4,158.8 431.3,162.8 432.2,166.8 433.1,170.6 433.9,174.2 434.6,177.8 435.3,181.3 436.1,184.4 437.1,186.9 437.7,188.0 438.4,188.9 439.1,189.7 439.9,190.4 440.7,191.1 441.6,191.9 442.5,192.6 443.5,193.4 444.5,194.0 445.5,194.6 446.4,195.1 447.3,195.5 448.2,195.8 449.2,196.1 450.2,196.4 451.5,196.7 452.9,196.8 454.3,196.9 455.8,197.1 457.3,197.2 458.9,197.4 460.5,197.6 462.2,197.8 463.9,198.0 465.7,198.2 468,198.4 470.5,198.6 473,198.7 475.4,198.9 477.6,199.1 479.4,199.3 481.3,199.5 483,199.8 484.2,199.9 484.7,200.0" fill="none" stroke="#0000b8" stroke-width="1.3" stroke-linejoin="round" stroke-linecap="round"/>
<path d="M79.4 384.5H487.5V646" fill="none" stroke="#383838" stroke-width="1.2"/>
<path d="M79.4 384.5V646H487.5" fill="none" stroke="#383838" stroke-width="1.2"/>
<path d="M73.9 646H84.4M73.9 558.83H84.4M73.9 471.67H84.4M73.9 384.5H79.4M79.4 640.8V651.5M147.32 640.8V651.5M215.23 640.8V651.5M283.15 640.8V651.5M351.07 640.8V651.5M418.98 640.8V651.5" fill="none" stroke="#383838" stroke-width="1.1"/>
<path d="M75.2 619.76H79.4M75.2 604.41H79.4M75.2 593.52H79.4M75.2 585.07H79.4M75.2 578.17H79.4M75.2 572.34H79.4M75.2 567.28H79.4M75.2 562.82H79.4M75.2 532.59H79.4M75.2 517.24H79.4M75.2 506.35H79.4M75.2 497.91H79.4M75.2 491H79.4M75.2 485.17H79.4M75.2 480.11H79.4M75.2 475.66H79.4M75.2 445.43H79.4M75.2 430.08H79.4M75.2 419.19H79.4M75.2 410.74H79.4M75.2 403.84H79.4M75.2 398H79.4M75.2 392.95H79.4M75.2 388.49H79.4M92.98 646V650.6M106.57 646V650.6M120.15 646V650.6M133.73 646V650.6M160.9 646V650.6M174.48 646V650.6M188.07 646V650.6M201.65 646V650.6M228.82 646V650.6M242.4 646V650.6M255.98 646V650.6M269.57 646V650.6M296.73 646V650.6M310.32 646V650.6M323.9 646V650.6M337.48 646V650.6M364.65 646V650.6M378.23 646V650.6M391.82 646V650.6M405.4 646V650.6M432.57 646V650.6M446.15 646V650.6M459.73 646V650.6M473.32 646V650.6" fill="none" stroke="#383838" stroke-width="1"/>
<text x="67.2" y="651.9" text-anchor="end" font-weight="bold" font-size="14">1.E<tspan font-weight="normal">+</tspan>04</text>
<text x="67.2" y="564.73" text-anchor="end" font-weight="bold" font-size="14">1.E<tspan font-weight="normal">+</tspan>05</text>
<text x="67.2" y="477.57" text-anchor="end" font-weight="bold" font-size="14">1.E<tspan font-weight="normal">+</tspan>06</text>
<text x="67.2" y="390.4" text-anchor="end" font-weight="bold" font-size="14">1.E<tspan font-weight="normal">+</tspan>07</text>
<text transform="translate(80.7,666.7) scale(0.97,1)" text-anchor="middle" font-weight="bold" font-size="13.4">0</text>
<text transform="translate(149.5,666.7) scale(0.97,1)" text-anchor="middle" font-weight="bold" font-size="13.4">20</text>
<text transform="translate(215.8,666.7) scale(0.97,1)" text-anchor="middle" font-weight="bold" font-size="13.4">40</text>
<text transform="translate(285.1,666.7) scale(0.97,1)" text-anchor="middle" font-weight="bold" font-size="13.4">60</text>
<text transform="translate(356,666.7) scale(0.97,1)" text-anchor="middle" font-weight="bold" font-size="13.4">80</text>
<text transform="translate(421,666.7) scale(0.97,1)" text-anchor="middle" font-weight="bold" font-size="13.4">100</text>
<polyline points="79.9,487.4 79.8,488.2 79.7,490.0 79.6,492.3 79.6,494.4 79.9,495.5 80.1,495.6 80.3,495.7 80.5,495.7 80.8,495.6 81.1,495.5 82,495.0 83.2,494.1 84.5,493.0 85.9,491.8 87.3,490.6 89.1,489.2 91,487.6 93,486.1 95.1,484.6 97.1,483.2 99.1,482.1 101.1,481.0 103.1,480.1 105.1,479.2 107,478.3 108.6,477.6 110.1,476.9 111.6,476.3 113,475.7 114.3,475.3 115.2,475.0 116,474.7 116.8,474.5 117.5,474.5 118,474.6 118.2,474.9 118.4,475.3 118.4,475.8 118.5,476.4 118.5,477.0 118.6,477.9 118.6,478.9 118.6,480.0 118.6,481.1 118.7,482.2 118.7,483.2 118.7,484.3 118.8,485.3 118.8,486.3 118.8,487.4 118.9,488.4 118.9,489.4 118.9,490.5 118.9,491.5 119,492.5 119,493.6 119,494.6 119.1,495.6 119.1,496.7 119.1,497.7 119.1,498.8 119.1,499.8 119.1,500.8 119.1,501.8 119.3,502.9 119.6,504.1 120,505.5 120.4,506.8 121,508.0 121.7,509.0 122.5,509.8 123.5,510.4 124.5,511.0 125.6,511.5 126.6,512.0 127.6,512.5 128.7,513.0 129.7,513.5 130.7,514.0 131.6,514.4 132.2,514.8 132.7,515.2 133.2,515.6 133.6,515.9 134,515.9 134.4,515.5 134.6,514.8 134.8,513.8 135,512.7 135.2,511.5 135.5,509.2 135.7,506.5 135.9,503.6 136.1,500.7 136.5,498.0 136.9,495.9 137.3,493.8 137.9,491.8 138.5,489.9 139.4,488.1 140.5,486.4 141.8,484.9 143.2,483.4 144.7,482.0 146.3,480.7 148.1,479.3 150.1,478.0 152.1,476.8 154.2,475.7 156.1,474.6 157.6,473.8 159.1,473.0 160.6,472.3 162,471.6 163.5,470.9 165.1,470.2 166.8,469.4 168.5,468.6 169.9,468.0 170.9,467.7 171.1,467.7 171.3,467.6 171.4,467.6 171.5,467.6 171.6,467.7 171.7,467.9 171.7,468.3 171.7,468.7 171.6,469.2 171.6,469.7 171.6,470.7 171.6,471.8 171.7,473.1 171.7,474.4 171.7,475.6 171.7,476.8 171.7,478.0 171.8,479.1 171.8,480.3 171.8,481.5 171.8,482.7 171.8,483.9 171.9,485.0 171.9,486.2 171.9,487.4 171.9,488.6 171.9,489.8 172,490.9 172,492.1 172,493.3 172,494.5 172,495.7 172,496.9 172.1,498.0 172.1,499.2 172.2,500.3 172.2,501.4 172.3,502.5 172.4,503.6 172.4,504.7 172.5,505.8 172.6,506.9 172.6,508.0 172.7,509.1 172.8,510.2 172.8,511.4 172.9,512.5 172.9,513.6 173,514.7 173.1,515.8 173.1,516.9 173.1,518.0 173.1,519.1 173.2,520.2 173.4,521.3 173.7,522.3 174.1,523.3 174.6,524.3 175.2,525.3 175.8,526.2 176.6,527.2 177.5,528.3 178.5,529.3 179.6,530.2 180.7,531.1 182.2,532.1 183.9,533.2 185.6,534.1 187.1,534.7 188.1,534.8 188.3,534.7 188.5,534.5 188.6,534.3 188.7,534.0 188.8,533.6 189,532.2 189.1,530.2 189.2,528.0 189.2,525.7 189.3,523.8 189.4,522.5 189.4,521.4 189.5,520.2 189.6,519.1 189.7,518.0 189.7,516.8 189.8,515.7 189.9,514.5 190,513.4 190,512.2 190.1,511.1 190.1,509.9 190.1,508.8 190.2,507.6 190.4,506.4 190.8,504.6 191.3,502.6 192,500.6 192.7,498.6 193.6,496.6 194.6,494.6 195.8,492.5 197.1,490.5 198.4,488.5 199.8,486.7 201.2,485.1 202.6,483.5 204,482.0 205.6,480.6 207.1,479.3 208.5,478.3 210,477.4 211.4,476.7 213,475.9 214.5,475.2 216.3,474.3 218.3,473.4 220.3,472.6 222,472.0 223.1,472.0 223.3,472.1 223.5,472.3 223.6,472.6 223.7,472.9 223.8,473.2 223.9,474.1 224,475.2 223.9,476.5 223.9,477.8 223.9,479.0 223.9,480.2 223.9,481.3 223.9,482.5 223.9,483.6 223.9,484.8 224,486.0 224,487.1 224,488.3 224,489.4 224,490.6 224,491.8 224,492.9 224.1,494.1 224.1,495.2 224.1,496.4 224.1,497.6 224.1,498.7 224.1,499.9 224.1,501.0 224.2,502.2 224.2,503.4 224.2,504.5 224.2,505.7 224.2,506.8 224.2,508.0 224.2,509.2 224.3,510.3 224.3,511.5 224.3,512.6 224.3,513.8 224.3,515.0 224.3,516.1 224.4,517.3 224.4,518.5 224.4,519.6 224.5,520.8 224.5,522.0 224.5,523.1 224.5,524.3 224.6,525.5 224.6,526.6 224.6,527.8 224.6,528.9 224.6,530.1 224.7,531.3 224.7,532.4 224.6,533.6 224.6,534.8 224.7,535.9 224.8,537.1 225,538.4 225.4,539.6 225.8,540.9 226.3,542.1 226.8,543.3 227.4,544.4 228.1,545.4 228.8,546.4 229.6,547.3 230.5,548.2 231.6,549.1 232.8,550.0 234.1,550.9 235.3,551.7 236.6,552.4 237.7,553.1 239,553.9 240.1,554.5 241.2,554.9 242,554.8 242.7,553.5 242.9,551.2 242.9,548.4 242.8,545.6 242.8,543.3 242.8,542.2 242.9,541.2 242.9,540.2 242.9,539.3 242.9,538.4 242.9,537.4 242.9,536.4 243,535.4 243,534.4 243,533.5 243,532.5 243,531.5 243.1,530.5 243.1,529.5 243.1,528.5 243.1,527.6 243.1,526.6 243.2,525.6 243.2,524.6 243.2,523.6 243.2,522.7 243.1,521.7 243.1,520.8 243.2,519.8 243.3,518.7 243.8,516.6 244.6,514.1 245.6,511.5 246.6,508.9 247.7,506.4 248.8,504.1 249.9,501.7 251.1,499.5 252.4,497.3 253.8,495.3 255.2,493.7 256.6,492.1 258.1,490.7 259.7,489.4 261.2,488.0 262.7,486.7 264.1,485.4 265.6,484.2 267.1,483.0 268.6,481.8 270.2,480.6 271.9,479.3 273.6,478.1 275,477.2 276,476.9 276.2,476.9 276.4,477.0 276.5,477.1 276.6,477.2 276.7,477.4 276.9,478.0 276.9,479.0 276.9,480.0 276.8,481.2 276.8,482.2 276.8,483.2 276.8,484.1 276.9,485.1 276.9,486.1 276.9,487.0 276.9,488.0 276.9,489.0 277,489.9 277,490.9 277,491.9 277,492.8 277,493.8 277.1,494.8 277.1,495.7 277.1,496.7 277.1,497.6 277.1,498.6 277.2,499.5 277.2,500.5 277.2,501.5 277.2,502.7 277.2,503.8 277.2,505.1 277.3,506.3 277.3,507.5 277.3,508.7 277.3,509.9 277.3,511.1 277.3,512.2 277.3,513.4 277.4,514.6 277.4,515.8 277.4,517.0 277.4,518.2 277.4,519.4 277.4,520.6 277.4,521.8 277.5,523.0 277.5,524.2 277.5,525.4 277.5,526.6 277.5,527.8 277.5,529.0 277.5,530.2 277.6,531.4 277.6,532.6 277.6,533.7 277.6,534.9 277.6,536.1 277.6,537.3 277.6,538.5 277.6,539.6 277.6,540.8 277.6,542.0 277.7,543.3 277.9,545.6 278.2,548.1 278.6,550.8 279.1,553.4 279.7,555.6 280.3,557.0 281,558.3 281.7,559.6 282.5,560.7 283.4,561.7 284.3,562.6 285.2,563.4 286.2,564.1 287.2,564.8 288.3,565.4 289.6,566.1 291,566.9 292.4,567.6 293.6,568.0 294.4,567.9 294.7,567.4 294.8,566.6 294.7,565.7 294.6,564.7 294.6,563.8 294.6,563.0 294.6,562.2 294.7,561.3 294.7,560.5 294.7,559.7 294.8,558.9 294.8,558.1 294.8,557.3 294.9,556.5 294.9,555.6 294.9,554.6 295,553.5 295.1,552.4 295.1,551.3 295.2,550.2 295.2,549.1 295.3,548.0 295.3,546.9 295.4,545.8 295.4,544.8 295.5,543.7 295.5,542.6 295.6,541.5 295.6,540.4 295.7,539.3 295.7,538.3 295.8,537.2 295.8,536.1 295.9,535.0 295.9,533.9 296,532.8 296,531.8 296,530.7 296,529.6 296.2,528.5 296.5,527.1 297,525.7 297.5,524.3 298.1,522.8 298.7,521.1 299.5,518.4 300.4,515.4 301.4,512.3 302.4,509.2 303.6,506.4 304.7,504.3 305.9,502.2 307.1,500.3 308.5,498.5 309.8,496.6 311.2,494.7 312.6,492.9 314.1,491.0 315.6,489.4 317.1,487.9 318.3,486.9 319.6,486.0 320.9,485.2 322.1,484.5 323.3,483.8 324.2,483.2 325.2,482.7 326.1,482.2 326.9,481.8 327.5,481.8 327.7,481.9 327.9,482.1 328,482.4 328.1,482.7 328.2,483.0 328.3,483.7 328.4,484.6 328.3,485.6 328.3,486.6 328.3,487.6 328.4,488.5 328.4,489.5 328.4,490.4 328.4,491.3 328.5,492.3 328.5,493.2 328.5,494.1 328.5,495.0 328.6,495.9 328.6,496.9 328.6,497.8 328.6,498.7 328.7,499.6 328.7,500.5 328.7,501.5 328.7,502.6 328.7,503.8 328.7,504.9 328.8,506.1 328.8,507.3 328.8,508.4 328.8,509.6 328.8,510.7 328.8,511.9 328.8,513.1 328.9,514.2 328.9,515.4 328.9,516.5 328.9,517.7 328.9,518.8 328.9,520.0 328.9,521.2 329,522.3 329,523.5 329,524.6 329,525.8 329,526.9 329,528.1 329,529.2 329,530.4 329.1,531.6 329.1,532.7 329.1,533.9 329.1,535.0 329.1,536.2 329.1,537.3 329.1,538.5 329.2,539.6 329.2,540.8 329.2,542.0 329.2,543.1 329.2,544.3 329.2,545.4 329.2,546.6 329.3,547.7 329.3,548.9 329.3,550.1 329.3,551.2 329.3,552.4 329.3,553.5 329.3,554.6 329.3,555.7 329.3,556.8 329.3,558.0 329.4,559.3 329.5,561.7 329.6,564.5 329.8,567.5 330.2,570.3 330.7,572.8 331.2,574.4 331.8,576.0 332.5,577.4 333.3,578.6 334.3,579.7 335.4,580.5 336.6,581.1 337.9,581.7 339.2,582.1 340.5,582.6 341.7,583.2 343,583.8 344.3,584.4 345.3,584.7 346.1,584.6 346.5,584.1 346.6,583.3 346.6,582.3 346.6,581.2 346.6,580.2 346.6,579.1 346.7,578.0 346.7,576.9 346.7,575.7 346.7,574.6 346.7,573.4 346.7,572.3 346.7,571.2 346.7,570.1 346.7,568.9 346.8,567.8 346.8,566.7 346.8,565.6 346.8,564.4 346.8,563.3 346.8,562.2 346.8,561.1 346.9,559.9 346.9,558.8 346.9,557.7 346.9,556.6 346.9,555.4 346.9,554.3 346.9,553.2 347,552.1 347,550.9 347,549.8 347,548.7 347,547.6 347,546.4 347,545.3 347,544.2 346.9,543.2 347,542.0 347.1,540.8 347.5,539.0 348.1,537.1 348.8,535.1 349.5,533.1 350.3,531.0 351.2,528.6 352.1,526.2 353.1,523.7 354.1,521.2 355.2,518.7 356.3,516.2 357.5,513.7 358.7,511.2 360,508.7 361.4,506.4 362.8,504.3 364.2,502.3 365.7,500.3 367.3,498.4 368.8,496.6 370.2,495.0 371.7,493.3 373.2,491.8 374.7,490.4 376.1,489.2 377.1,488.3 378.2,487.5 379.1,486.7 380,486.3 380.6,486.2 380.9,486.5 381,487.0 381,487.7 381.1,488.5 381.1,489.2 381.2,490.2 381.2,491.4 381.1,492.6 381.1,493.8 381.1,495.0 381.1,496.2 381.1,497.4 381.1,498.5 381.1,499.7 381.1,500.9 381.1,502.0 381.1,503.2 381.1,504.4 381.1,505.5 381.1,506.7 381.1,507.9 381.1,509.0 381.1,510.2 381.1,511.4 381.1,512.5 381.1,513.7 381.1,514.9 381.1,516.1 381.1,517.2 381.1,518.4 381.1,519.6 381.1,520.7 381.1,521.9 381.1,523.1 381.1,524.2 381.1,525.4 381.1,526.6 381.1,527.7 381.1,528.9 381.1,530.1 381.1,531.2 381.1,532.4 381.1,533.6 381.1,534.7 381.1,535.9 381.1,537.1 381.1,538.2 381.1,539.4 381.1,540.6 381.1,541.7 381.1,542.9 381.1,544.1 381.1,545.2 381.1,546.4 381.1,547.6 381.1,548.7 381.1,549.9 381.1,551.1 381.1,552.2 381.1,553.4 381.1,554.6 381.1,555.7 381.1,556.9 381.1,558.1 381.1,559.2 381.1,560.4 381.1,561.6 381.1,562.8 381.1,563.9 381.1,565.1 381.1,566.3 381.1,567.4 381.1,568.6 381.1,569.8 381.1,570.9 381.1,572.1 381.1,573.3 381.1,574.4 381.1,575.6 381.1,576.8 381.1,577.9 381.1,579.0 381,580.2 381,581.3 381.1,582.6 381.2,584.5 381.3,586.5 381.5,588.6 381.8,590.6 382.3,592.4 382.8,593.7 383.5,594.9 384.2,596.0 385.1,597.0 386,597.9 387.1,598.6 388.2,599.2 389.5,599.6 390.8,600.0 392.1,600.3 393.5,600.7 395.1,601.1 396.6,601.4 397.9,601.4 398.8,601.1 399.2,600.5 399.2,599.6 399.2,598.6 399.1,597.5 399,596.6 399.1,595.7 399.1,594.8 399.2,593.8 399.2,592.9 399.3,592.0 399.3,591.1 399.4,590.2 399.4,589.3 399.5,588.4 399.5,587.5 399.5,586.5 399.5,585.4 399.5,584.3 399.5,583.3 399.5,582.2 399.5,581.1 399.5,580.1 399.5,579.0 399.5,577.9 399.5,576.9 399.5,575.8 399.5,574.7 399.5,573.7 399.5,572.6 399.5,571.5 399.5,570.5 399.5,569.4 399.5,568.4 399.5,567.3 399.5,566.2 399.5,565.2 399.5,564.1 399.5,563.0 399.5,562.0 399.5,560.9 399.5,559.9 399.4,558.9 399.4,557.8 399.4,556.8 399.5,555.6 399.8,553.8 400.2,551.9 400.8,549.9 401.4,547.8 402,545.7 402.8,542.9 403.8,539.9 404.8,536.8 405.8,533.8 406.9,531.0 407.9,528.7 408.9,526.5 410,524.4 411.1,522.2 412.1,520.0 413.2,517.4 414.2,514.8 415.2,512.1 416.3,509.5 417.6,507.2 418.9,505.4 420.3,503.7 421.7,502.2 423.1,500.8 424.3,499.5 425,498.7 425.6,498.0 426.3,497.4 426.9,496.8 427.6,496.1 428.8,495.1 430.2,493.9 431.6,492.8 432.7,492.0 433.1,491.7" fill="none" stroke="#3c3cff" stroke-width="2.5" stroke-linejoin="round" stroke-linecap="round"/>
<polyline points="79.9,487.4 79.8,488.2 79.7,490.0 79.6,492.3 79.6,494.4 79.9,495.5 80.1,495.6 80.3,495.7 80.5,495.7 80.8,495.6 81.1,495.5 82,495.0 83.2,494.1 84.5,493.0 85.9,491.8 87.3,490.6 89.1,489.2 91,487.6 93,486.1 95.1,484.6 97.1,483.2 99.1,482.1 101.1,481.0 103.1,480.1 105.1,479.2 107,478.3 108.6,477.6 110.1,476.9 111.6,476.3 113,475.7 114.3,475.3 115.2,475.0 116,474.7 116.8,474.5 117.5,474.5 118,474.6 118.2,474.9 118.4,475.3 118.4,475.8 118.5,476.4 118.5,477.0 118.6,477.9 118.6,478.9 118.6,480.0 118.6,481.1 118.7,482.2 118.7,483.2 118.7,484.3 118.8,485.3 118.8,486.3 118.8,487.4 118.9,488.4 118.9,489.4 118.9,490.5 118.9,491.5 119,492.5 119,493.6 119,494.6 119.1,495.6 119.1,496.7 119.1,497.7 119.1,498.8 119.1,499.8 119.1,500.8 119.1,501.8 119.3,502.9 119.6,504.1 120,505.5 120.4,506.8 121,508.0 121.7,509.0 122.5,509.8 123.5,510.4 124.5,511.0 125.6,511.5 126.6,512.0 127.6,512.5 128.7,513.0 129.7,513.5 130.7,514.0 131.6,514.4 132.2,514.8 132.7,515.2 133.2,515.6 133.6,515.9 134,515.9 134.4,515.5 134.6,514.8 134.8,513.8 135,512.7 135.2,511.5 135.5,509.2 135.7,506.5 135.9,503.6 136.1,500.7 136.5,498.0 136.9,495.9 137.3,493.8 137.9,491.8 138.5,489.9 139.4,488.1 140.5,486.4 141.8,484.9 143.2,483.4 144.7,482.0 146.3,480.7 148.1,479.3 150.1,478.0 152.1,476.8 154.2,475.7 156.1,474.6 157.6,473.8 159.1,473.0 160.6,472.3 162,471.6 163.5,470.9 165.1,470.2 166.8,469.4 168.5,468.6 169.9,468.0 170.9,467.7 171.1,467.7 171.3,467.6 171.4,467.6 171.5,467.6 171.6,467.7 171.7,467.9 171.7,468.3 171.7,468.7 171.6,469.2 171.6,469.7 171.6,470.7 171.6,471.8 171.7,473.1 171.7,474.4 171.7,475.6 171.7,476.8 171.7,478.0 171.8,479.1 171.8,480.3 171.8,481.5 171.8,482.7 171.8,483.9 171.9,485.0 171.9,486.2 171.9,487.4 171.9,488.6 171.9,489.8 172,490.9 172,492.1 172,493.3 172,494.5 172,495.7 172,496.9 172.1,498.0 172.1,499.2 172.2,500.3 172.2,501.4 172.3,502.5 172.4,503.6 172.4,504.7 172.5,505.8 172.6,506.9 172.6,508.0 172.7,509.1 172.8,510.2 172.8,511.4 172.9,512.5 172.9,513.6 173,514.7 173.1,515.8 173.1,516.9 173.1,518.0 173.1,519.1 173.2,520.2 173.4,521.3 173.7,522.3 174.1,523.3 174.6,524.3 175.2,525.3 175.8,526.2 176.6,527.2 177.5,528.3 178.5,529.3 179.6,530.2 180.7,531.1 182.2,532.1 183.9,533.2 185.6,534.1 187.1,534.7 188.1,534.8 188.3,534.7 188.5,534.5 188.6,534.3 188.7,534.0 188.8,533.6 189,532.2 189.1,530.2 189.2,528.0 189.2,525.7 189.3,523.8 189.4,522.5 189.4,521.4 189.5,520.2 189.6,519.1 189.7,518.0 189.7,516.8 189.8,515.7 189.9,514.5 190,513.4 190,512.2 190.1,511.1 190.1,509.9 190.1,508.8 190.2,507.6 190.4,506.4 190.8,504.6 191.3,502.6 192,500.6 192.7,498.6 193.6,496.6 194.6,494.6 195.8,492.5 197.1,490.5 198.4,488.5 199.8,486.7 201.2,485.1 202.6,483.5 204,482.0 205.6,480.6 207.1,479.3 208.5,478.3 210,477.4 211.4,476.7 213,475.9 214.5,475.2 216.3,474.3 218.3,473.4 220.3,472.6 222,472.0 223.1,472.0 223.3,472.1 223.5,472.3 223.6,472.6 223.7,472.9 223.8,473.2 223.9,474.1 224,475.2 223.9,476.5 223.9,477.8 223.9,479.0 223.9,480.2 223.9,481.3 223.9,482.5 223.9,483.6 223.9,484.8 224,486.0 224,487.1 224,488.3 224,489.4 224,490.6 224,491.8 224,492.9 224.1,494.1 224.1,495.2 224.1,496.4 224.1,497.6 224.1,498.7 224.1,499.9 224.1,501.0 224.2,502.2 224.2,503.4 224.2,504.5 224.2,505.7 224.2,506.8 224.2,508.0 224.2,509.2 224.3,510.3 224.3,511.5 224.3,512.6 224.3,513.8 224.3,515.0 224.3,516.1 224.4,517.3 224.4,518.5 224.4,519.6 224.5,520.8 224.5,522.0 224.5,523.1 224.5,524.3 224.6,525.5 224.6,526.6 224.6,527.8 224.6,528.9 224.6,530.1 224.7,531.3 224.7,532.4 224.6,533.6 224.6,534.8 224.7,535.9 224.8,537.1 225,538.4 225.4,539.6 225.8,540.9 226.3,542.1 226.8,543.3 227.4,544.4 228.1,545.4 228.8,546.4 229.6,547.3 230.5,548.2 231.6,549.1 232.8,550.0 234.1,550.9 235.3,551.7 236.6,552.4 237.7,553.1 239,553.9 240.1,554.5 241.2,554.9 242,554.8 242.7,553.5 242.9,551.2 242.9,548.4 242.8,545.6 242.8,543.3 242.8,542.2 242.9,541.2 242.9,540.2 242.9,539.3 242.9,538.4 242.9,537.4 242.9,536.4 243,535.4 243,534.4 243,533.5 243,532.5 243,531.5 243.1,530.5 243.1,529.5 243.1,528.5 243.1,527.6 243.1,526.6 243.2,525.6 243.2,524.6 243.2,523.6 243.2,522.7 243.1,521.7 243.1,520.8 243.2,519.8 243.3,518.7 243.8,516.6 244.6,514.1 245.6,511.5 246.6,508.9 247.7,506.4 248.8,504.1 249.9,501.7 251.1,499.5 252.4,497.3 253.8,495.3 255.2,493.7 256.6,492.1 258.1,490.7 259.7,489.4 261.2,488.0 262.7,486.7 264.1,485.4 265.6,484.2 267.1,483.0 268.6,481.8 270.2,480.6 271.9,479.3 273.6,478.1 275,477.2 276,476.9 276.2,476.9 276.4,477.0 276.5,477.1 276.6,477.2 276.7,477.4 276.9,478.0 276.9,479.0 276.9,480.0 276.8,481.2 276.8,482.2 276.8,483.2 276.8,484.1 276.9,485.1 276.9,486.1 276.9,487.0 276.9,488.0 276.9,489.0 277,489.9 277,490.9 277,491.9 277,492.8 277,493.8 277.1,494.8 277.1,495.7 277.1,496.7 277.1,497.6 277.1,498.6 277.2,499.5 277.2,500.5 277.2,501.5 277.2,502.7 277.2,503.8 277.2,505.1 277.3,506.3 277.3,507.5 277.3,508.7 277.3,509.9 277.3,511.1 277.3,512.2 277.3,513.4 277.4,514.6 277.4,515.8 277.4,517.0 277.4,518.2 277.4,519.4 277.4,520.6 277.4,521.8 277.5,523.0 277.5,524.2 277.5,525.4 277.5,526.6 277.5,527.8 277.5,529.0 277.5,530.2 277.6,531.4 277.6,532.6 277.6,533.7 277.6,534.9 277.6,536.1 277.6,537.3 277.6,538.5 277.6,539.6 277.6,540.8 277.6,542.0 277.7,543.3 277.9,545.6 278.2,548.1 278.6,550.8 279.1,553.4 279.7,555.6 280.3,557.0 281,558.3 281.7,559.6 282.5,560.7 283.4,561.7 284.3,562.6 285.2,563.4 286.2,564.1 287.2,564.8 288.3,565.4 289.6,566.1 291,566.9 292.4,567.6 293.6,568.0 294.4,567.9 294.7,567.4 294.8,566.6 294.7,565.7 294.6,564.7 294.6,563.8 294.6,563.0 294.6,562.2 294.7,561.3 294.7,560.5 294.7,559.7 294.8,558.9 294.8,558.1 294.8,557.3 294.9,556.5 294.9,555.6 294.9,554.6 295,553.5 295.1,552.4 295.1,551.3 295.2,550.2 295.2,549.1 295.3,548.0 295.3,546.9 295.4,545.8 295.4,544.8 295.5,543.7 295.5,542.6 295.6,541.5 295.6,540.4 295.7,539.3 295.7,538.3 295.8,537.2 295.8,536.1 295.9,535.0 295.9,533.9 296,532.8 296,531.8 296,530.7 296,529.6 296.2,528.5 296.5,527.1 297,525.7 297.5,524.3 298.1,522.8 298.7,521.1 299.5,518.4 300.4,515.4 301.4,512.3 302.4,509.2 303.6,506.4 304.7,504.3 305.9,502.2 307.1,500.3 308.5,498.5 309.8,496.6 311.2,494.7 312.6,492.9 314.1,491.0 315.6,489.4 317.1,487.9 318.3,486.9 319.6,486.0 320.9,485.2 322.1,484.5 323.3,483.8 324.2,483.2 325.2,482.7 326.1,482.2 326.9,481.8 327.5,481.8 327.7,481.9 327.9,482.1 328,482.4 328.1,482.7 328.2,483.0 328.3,483.7 328.4,484.6 328.3,485.6 328.3,486.6 328.3,487.6 328.4,488.5 328.4,489.5 328.4,490.4 328.4,491.3 328.5,492.3 328.5,493.2 328.5,494.1 328.5,495.0 328.6,495.9 328.6,496.9 328.6,497.8 328.6,498.7 328.7,499.6 328.7,500.5 328.7,501.5 328.7,502.6 328.7,503.8 328.7,504.9 328.8,506.1 328.8,507.3 328.8,508.4 328.8,509.6 328.8,510.7 328.8,511.9 328.8,513.1 328.9,514.2 328.9,515.4 328.9,516.5 328.9,517.7 328.9,518.8 328.9,520.0 328.9,521.2 329,522.3 329,523.5 329,524.6 329,525.8 329,526.9 329,528.1 329,529.2 329,530.4 329.1,531.6 329.1,532.7 329.1,533.9 329.1,535.0 329.1,536.2 329.1,537.3 329.1,538.5 329.2,539.6 329.2,540.8 329.2,542.0 329.2,543.1 329.2,544.3 329.2,545.4 329.2,546.6 329.3,547.7 329.3,548.9 329.3,550.1 329.3,551.2 329.3,552.4 329.3,553.5 329.3,554.6 329.3,555.7 329.3,556.8 329.3,558.0 329.4,559.3 329.5,561.7 329.6,564.5 329.8,567.5 330.2,570.3 330.7,572.8 331.2,574.4 331.8,576.0 332.5,577.4 333.3,578.6 334.3,579.7 335.4,580.5 336.6,581.1 337.9,581.7 339.2,582.1 340.5,582.6 341.7,583.2 343,583.8 344.3,584.4 345.3,584.7 346.1,584.6 346.5,584.1 346.6,583.3 346.6,582.3 346.6,581.2 346.6,580.2 346.6,579.1 346.7,578.0 346.7,576.9 346.7,575.7 346.7,574.6 346.7,573.4 346.7,572.3 346.7,571.2 346.7,570.1 346.7,568.9 346.8,567.8 346.8,566.7 346.8,565.6 346.8,564.4 346.8,563.3 346.8,562.2 346.8,561.1 346.9,559.9 346.9,558.8 346.9,557.7 346.9,556.6 346.9,555.4 346.9,554.3 346.9,553.2 347,552.1 347,550.9 347,549.8 347,548.7 347,547.6 347,546.4 347,545.3 347,544.2 346.9,543.2 347,542.0 347.1,540.8 347.5,539.0 348.1,537.1 348.8,535.1 349.5,533.1 350.3,531.0 351.2,528.6 352.1,526.2 353.1,523.7 354.1,521.2 355.2,518.7 356.3,516.2 357.5,513.7 358.7,511.2 360,508.7 361.4,506.4 362.8,504.3 364.2,502.3 365.7,500.3 367.3,498.4 368.8,496.6 370.2,495.0 371.7,493.3 373.2,491.8 374.7,490.4 376.1,489.2 377.1,488.3 378.2,487.5 379.1,486.7 380,486.3 380.6,486.2 380.9,486.5 381,487.0 381,487.7 381.1,488.5 381.1,489.2 381.2,490.2 381.2,491.4 381.1,492.6 381.1,493.8 381.1,495.0 381.1,496.2 381.1,497.4 381.1,498.5 381.1,499.7 381.1,500.9 381.1,502.0 381.1,503.2 381.1,504.4 381.1,505.5 381.1,506.7 381.1,507.9 381.1,509.0 381.1,510.2 381.1,511.4 381.1,512.5 381.1,513.7 381.1,514.9 381.1,516.1 381.1,517.2 381.1,518.4 381.1,519.6 381.1,520.7 381.1,521.9 381.1,523.1 381.1,524.2 381.1,525.4 381.1,526.6 381.1,527.7 381.1,528.9 381.1,530.1 381.1,531.2 381.1,532.4 381.1,533.6 381.1,534.7 381.1,535.9 381.1,537.1 381.1,538.2 381.1,539.4 381.1,540.6 381.1,541.7 381.1,542.9 381.1,544.1 381.1,545.2 381.1,546.4 381.1,547.6 381.1,548.7 381.1,549.9 381.1,551.1 381.1,552.2 381.1,553.4 381.1,554.6 381.1,555.7 381.1,556.9 381.1,558.1 381.1,559.2 381.1,560.4 381.1,561.6 381.1,562.8 381.1,563.9 381.1,565.1 381.1,566.3 381.1,567.4 381.1,568.6 381.1,569.8 381.1,570.9 381.1,572.1 381.1,573.3 381.1,574.4 381.1,575.6 381.1,576.8 381.1,577.9 381.1,579.0 381,580.2 381,581.3 381.1,582.6 381.2,584.5 381.3,586.5 381.5,588.6 381.8,590.6 382.3,592.4 382.8,593.7 383.5,594.9 384.2,596.0 385.1,597.0 386,597.9 387.1,598.6 388.2,599.2 389.5,599.6 390.8,600.0 392.1,600.3 393.5,600.7 395.1,601.1 396.6,601.4 397.9,601.4 398.8,601.1 399.2,600.5 399.2,599.6 399.2,598.6 399.1,597.5 399,596.6 399.1,595.7 399.1,594.8 399.2,593.8 399.2,592.9 399.3,592.0 399.3,591.1 399.4,590.2 399.4,589.3 399.5,588.4 399.5,587.5 399.5,586.5 399.5,585.4 399.5,584.3 399.5,583.3 399.5,582.2 399.5,581.1 399.5,580.1 399.5,579.0 399.5,577.9 399.5,576.9 399.5,575.8 399.5,574.7 399.5,573.7 399.5,572.6 399.5,571.5 399.5,570.5 399.5,569.4 399.5,568.4 399.5,567.3 399.5,566.2 399.5,565.2 399.5,564.1 399.5,563.0 399.5,562.0 399.5,560.9 399.5,559.9 399.4,558.9 399.4,557.8 399.4,556.8 399.5,555.6 399.8,553.8 400.2,551.9 400.8,549.9 401.4,547.8 402,545.7 402.8,542.9 403.8,539.9 404.8,536.8 405.8,533.8 406.9,531.0 407.9,528.7 408.9,526.5 410,524.4 411.1,522.2 412.1,520.0 413.2,517.4 414.2,514.8 415.2,512.1 416.3,509.5 417.6,507.2 418.9,505.4 420.3,503.7 421.7,502.2 423.1,500.8 424.3,499.5 425,498.7 425.6,498.0 426.3,497.4 426.9,496.8 427.6,496.1 428.8,495.1 430.2,493.9 431.6,492.8 432.7,492.0 433.1,491.7" fill="none" stroke="#0000b8" stroke-width="1.3" stroke-linejoin="round" stroke-linecap="round"/>
<path d="M85.6 733.3H483.6V1001.5" fill="none" stroke="#383838" stroke-width="1.2"/>
<path d="M85.6 733.3V1001.5H483.6" fill="none" stroke="#383838" stroke-width="1.2"/>
<path d="M80.1 1001.5H90.6M80.1 912.1H90.6M80.1 822.7H90.6M80.1 733.3H85.6M85.6 996.3V1007M174.04 996.3V1007M262.49 996.3V1007M350.93 996.3V1007M439.38 996.3V1007" fill="none" stroke="#383838" stroke-width="1.1"/>
<path d="M81.4 974.59H85.6M81.4 958.85H85.6M81.4 947.68H85.6M81.4 939.01H85.6M81.4 931.93H85.6M81.4 925.95H85.6M81.4 920.76H85.6M81.4 916.19H85.6M81.4 885.19H85.6M81.4 869.45H85.6M81.4 858.28H85.6M81.4 849.61H85.6M81.4 842.53H85.6M81.4 836.55H85.6M81.4 831.36H85.6M81.4 826.79H85.6M81.4 795.79H85.6M81.4 780.05H85.6M81.4 768.88H85.6M81.4 760.21H85.6M81.4 753.13H85.6M81.4 747.15H85.6M81.4 741.96H85.6M81.4 737.39H85.6M103.29 1001.5V1006.1M120.98 1001.5V1006.1M138.67 1001.5V1006.1M156.36 1001.5V1006.1M191.73 1001.5V1006.1M209.42 1001.5V1006.1M227.11 1001.5V1006.1M244.8 1001.5V1006.1M280.18 1001.5V1006.1M297.87 1001.5V1006.1M315.56 1001.5V1006.1M333.24 1001.5V1006.1M368.62 1001.5V1006.1M386.31 1001.5V1006.1M404 1001.5V1006.1M421.69 1001.5V1006.1M457.07 1001.5V1006.1M474.76 1001.5V1006.1" fill="none" stroke="#383838" stroke-width="1"/>
<text x="73.3" y="1007.4" text-anchor="end" font-weight="bold" font-size="14.5">1.E<tspan font-weight="normal">+</tspan>05</text>
<text x="73.3" y="918" text-anchor="end" font-weight="bold" font-size="14.5">1.E<tspan font-weight="normal">+</tspan>06</text>
<text x="73.3" y="828.6" text-anchor="end" font-weight="bold" font-size="14.5">1.E<tspan font-weight="normal">+</tspan>07</text>
<text x="73.3" y="739.2" text-anchor="end" font-weight="bold" font-size="14.5">1.E<tspan font-weight="normal">+</tspan>08</text>
<text transform="translate(86.2,1024.8) scale(0.97,1)" text-anchor="middle" font-weight="bold" font-size="13.6">0</text>
<text transform="translate(174.8,1024.8) scale(0.97,1)" text-anchor="middle" font-weight="bold" font-size="13.6">20</text>
<text transform="translate(263.1,1024.8) scale(0.97,1)" text-anchor="middle" font-weight="bold" font-size="13.6">40</text>
<text transform="translate(351.8,1024.8) scale(0.97,1)" text-anchor="middle" font-weight="bold" font-size="13.6">60</text>
<text transform="translate(439.7,1024.8) scale(0.97,1)" text-anchor="middle" font-weight="bold" font-size="13.6">80</text>
<polyline points="85.4,877.6 85.9,877.3 87.2,876.7 88.9,875.7 90.7,874.8 92.3,873.9 93.8,873.1 95.3,872.3 96.8,871.5 98.3,870.7 99.7,870.0 101,869.4 102.2,868.7 103.5,868.1 104.7,867.5 105.8,867.0 106.7,866.5 107.7,866.0 108.6,865.5 109.4,865.3 110,865.3 110.3,865.5 110.4,865.9 110.5,866.4 110.6,866.9 110.7,867.5 110.9,868.9 111.1,870.7 111.3,872.6 111.5,874.3 112,875.7 112.4,876.3 112.8,876.8 113.3,877.2 113.8,877.6 114.4,878.1 115.3,878.9 116.2,879.8 117.2,880.7 118.3,881.6 119.3,882.3 120.2,882.8 121.2,883.3 122.2,883.7 123.2,884.0 124.3,884.3 126,884.6 127.9,884.8 129.9,884.8 131.6,884.7 132.9,884.3 133.4,883.9 133.8,883.5 134.1,883.0 134.3,882.4 134.6,881.8 135,880.9 135.3,879.9 135.7,878.9 136.1,877.8 136.6,876.9 137.2,876.1 137.9,875.3 138.6,874.6 139.4,873.9 140.2,873.2 141.3,872.3 142.5,871.4 143.8,870.6 145.1,869.8 146.4,869.0 147.8,868.3 149.4,867.6 150.9,867.0 152.4,866.4 153.8,865.8 154.8,865.4 155.7,865.0 156.7,864.6 157.6,864.3 158.7,863.9 160.5,863.3 162.4,862.7 164.5,862.1 166.5,861.5 168.5,860.9 170.4,860.2 172.4,859.4 174.3,858.6 175.9,858.1 177.1,858.0 177.5,858.1 177.8,858.3 178,858.5 178.2,858.8 178.4,859.2 178.9,860.9 179.1,863.3 179.3,866.1 179.4,869.2 179.6,872.0 179.8,875.0 179.9,878.1 180.1,881.2 180.4,884.2 180.8,886.7 181.2,888.2 181.6,889.6 182,890.8 182.6,891.9 183.3,892.9 184.1,893.6 185.1,894.1 186.1,894.6 187.2,894.9 188.2,895.3 189.2,895.6 190.1,895.9 191.1,896.2 192.1,896.4 193.1,896.6 194.5,896.9 196.2,897.2 197.8,897.4 199.2,897.4 200.3,897.0 200.9,896.3 201.2,895.3 201.4,894.1 201.6,892.8 201.8,891.6 202.1,890.2 202.4,888.7 202.7,887.2 203,885.7 203.5,884.3 204.1,883.0 204.7,881.7 205.4,880.5 206.3,879.3 207.2,878.1 208.4,876.8 209.8,875.5 211.4,874.3 213,873.1 214.6,872.0 216.4,870.8 218.3,869.7 220.3,868.6 222.3,867.5 224.4,866.6 226.6,865.7 228.8,864.9 231,864.2 233.3,863.6 235.5,862.9 237.8,862.1 240.4,861.3 242.8,860.5 244.8,860.1 246.1,860.2 246.4,860.4 246.5,860.8 246.5,861.2 246.6,861.6 246.6,862.1 246.7,863.0 246.7,864.1 246.7,865.3 246.8,866.5 246.8,867.6 246.8,868.8 246.8,869.9 246.9,871.0 246.9,872.1 247,873.2 247,874.3 247,875.4 247.1,876.5 247.1,877.6 247.1,878.7 247.2,879.8 247.2,880.9 247.2,881.9 247.2,883.1 247.3,884.3 247.4,886.4 247.5,888.7 247.7,891.1 248,893.4 248.5,895.3 249,896.3 249.5,897.2 250.1,898.0 250.8,898.8 251.5,899.5 252.4,900.2 253.3,900.9 254.3,901.6 255.4,902.2 256.4,902.7 257.3,903.1 258.3,903.5 259.2,903.9 260.2,904.2 261.3,904.4 262.9,904.7 264.7,904.9 266.5,905.0 268.1,904.9 269.2,904.4 269.7,903.7 269.9,902.7 269.9,901.5 269.8,900.3 269.9,899.0 270.1,897.2 270.2,895.1 270.3,893.0 270.6,890.9 271.1,889.2 271.7,888.0 272.3,887.0 273.1,886.1 273.9,885.2 274.8,884.3 275.9,883.4 277.1,882.5 278.4,881.7 279.7,880.9 281,880.1 282.4,879.1 283.9,878.2 285.3,877.2 286.8,876.2 288.4,875.2 290.3,874.0 292.2,872.8 294.2,871.7 296.2,870.5 298.2,869.5 300.1,868.6 302,867.9 303.9,867.1 305.7,866.5 307.4,865.8 308.8,865.2 310.2,864.5 311.6,863.8 312.7,863.4 313.5,863.4 313.8,863.5 313.9,863.7 314.1,864.0 314.2,864.3 314.3,864.6 314.4,865.4 314.5,866.3 314.5,867.4 314.5,868.5 314.5,869.5 314.5,870.5 314.6,871.5 314.6,872.5 314.6,873.5 314.7,874.4 314.7,875.4 314.7,876.4 314.8,877.4 314.8,878.4 314.8,879.4 314.9,880.3 314.9,881.3 314.9,882.3 315,883.3 315,884.3 315,885.2 315.1,886.1 315.1,887.0 315.1,888.0 315.2,889.2 315.3,892.0 315.4,895.6 315.6,899.4 315.9,902.8 316.5,905.2 316.8,905.9 317.1,906.4 317.5,906.8 317.9,907.2 318.4,907.6 319.4,908.3 320.7,908.9 322,909.5 323.4,910.1 324.6,910.6 325.4,910.9 326.1,911.2 326.7,911.4 327.5,911.6 328.3,911.8 329.9,912.0 331.9,912.3 333.9,912.4 335.7,912.3 336.9,911.8 337.3,911.2 337.5,910.4 337.5,909.6 337.5,908.6 337.6,907.6 337.8,906.1 337.9,904.3 338.1,902.5 338.4,900.7 338.8,899.0 339.4,897.4 340.2,895.9 341,894.4 342,893.0 343,891.6 344.1,890.3 345.2,889.1 346.5,887.9 347.8,886.7 349.2,885.5 351,884.0 352.9,882.5 354.8,881.0 356.9,879.5 359,878.1 361.4,876.6 363.9,875.1 366.4,873.7 368.9,872.4 371.3,871.2 373.3,870.2 375.4,869.2 377.4,868.4 379.1,867.9 380.3,867.9 380.7,868.2 381,868.6 381.3,869.2 381.4,869.8 381.6,870.4 381.8,871.4 381.8,872.5 381.8,873.7 381.8,874.9 381.8,876.0 381.9,877.2 381.9,878.3 382,879.4 382,880.6 382.1,881.7 382.1,882.8 382.2,883.9 382.2,885.1 382.3,886.2 382.3,887.3 382.4,888.5 382.4,889.6 382.5,890.7 382.5,891.8 382.6,893.0 382.6,894.1 382.7,895.2 382.7,896.4 382.8,897.5 382.8,898.6 382.9,899.7 382.9,900.9 383,902.0 383,903.1 383.1,904.3 383.1,905.4 383.1,906.5 383.1,907.6 383.2,908.7 383.3,909.9 383.5,911.4 383.7,913.0 384,914.6 384.5,916.1 385.3,917.3 386.4,918.3 387.8,919.0 389.3,919.6 391,920.1 392.7,920.5 395.2,921.1 398,921.7 400.9,922.2 403.4,922.2 405,921.7 405.5,920.9 405.6,919.8 405.6,918.6 405.4,917.3 405.4,916.1 405.5,915.0 405.6,913.9 405.7,912.7 405.8,911.6 405.9,910.5 405.9,909.4 405.9,908.2 405.9,907.1 406,906.0 406.3,904.9 407,903.7 408.1,902.5 409.3,901.4 410.6,900.2 411.9,899.0 413.4,897.4 415,895.7 416.6,893.9 418.2,892.2 419.9,890.6 421.5,889.2 423.2,887.8 424.9,886.5 426.7,885.3 428.5,884.0 430.6,882.6 432.8,881.2 435.1,879.8 437.3,878.5 439.6,877.3 441.7,876.2 443.8,875.0 445.9,874.0 448,873.2 450.2,872.8 452.5,872.9 454.8,873.5 457.1,874.3 459.4,875.2 461.8,876.0 464.3,876.7 466.8,877.5 469.4,878.2 471.8,878.9 474.2,879.5 476.3,879.9 478.7,880.3 480.8,880.7 482.4,880.9 483,881.0" fill="none" stroke="#3c3cff" stroke-width="2.5" stroke-linejoin="round" stroke-linecap="round"/>
<polyline points="85.4,877.6 85.9,877.3 87.2,876.7 88.9,875.7 90.7,874.8 92.3,873.9 93.8,873.1 95.3,872.3 96.8,871.5 98.3,870.7 99.7,870.0 101,869.4 102.2,868.7 103.5,868.1 104.7,867.5 105.8,867.0 106.7,866.5 107.7,866.0 108.6,865.5 109.4,865.3 110,865.3 110.3,865.5 110.4,865.9 110.5,866.4 110.6,866.9 110.7,867.5 110.9,868.9 111.1,870.7 111.3,872.6 111.5,874.3 112,875.7 112.4,876.3 112.8,876.8 113.3,877.2 113.8,877.6 114.4,878.1 115.3,878.9 116.2,879.8 117.2,880.7 118.3,881.6 119.3,882.3 120.2,882.8 121.2,883.3 122.2,883.7 123.2,884.0 124.3,884.3 126,884.6 127.9,884.8 129.9,884.8 131.6,884.7 132.9,884.3 133.4,883.9 133.8,883.5 134.1,883.0 134.3,882.4 134.6,881.8 135,880.9 135.3,879.9 135.7,878.9 136.1,877.8 136.6,876.9 137.2,876.1 137.9,875.3 138.6,874.6 139.4,873.9 140.2,873.2 141.3,872.3 142.5,871.4 143.8,870.6 145.1,869.8 146.4,869.0 147.8,868.3 149.4,867.6 150.9,867.0 152.4,866.4 153.8,865.8 154.8,865.4 155.7,865.0 156.7,864.6 157.6,864.3 158.7,863.9 160.5,863.3 162.4,862.7 164.5,862.1 166.5,861.5 168.5,860.9 170.4,860.2 172.4,859.4 174.3,858.6 175.9,858.1 177.1,858.0 177.5,858.1 177.8,858.3 178,858.5 178.2,858.8 178.4,859.2 178.9,860.9 179.1,863.3 179.3,866.1 179.4,869.2 179.6,872.0 179.8,875.0 179.9,878.1 180.1,881.2 180.4,884.2 180.8,886.7 181.2,888.2 181.6,889.6 182,890.8 182.6,891.9 183.3,892.9 184.1,893.6 185.1,894.1 186.1,894.6 187.2,894.9 188.2,895.3 189.2,895.6 190.1,895.9 191.1,896.2 192.1,896.4 193.1,896.6 194.5,896.9 196.2,897.2 197.8,897.4 199.2,897.4 200.3,897.0 200.9,896.3 201.2,895.3 201.4,894.1 201.6,892.8 201.8,891.6 202.1,890.2 202.4,888.7 202.7,887.2 203,885.7 203.5,884.3 204.1,883.0 204.7,881.7 205.4,880.5 206.3,879.3 207.2,878.1 208.4,876.8 209.8,875.5 211.4,874.3 213,873.1 214.6,872.0 216.4,870.8 218.3,869.7 220.3,868.6 222.3,867.5 224.4,866.6 226.6,865.7 228.8,864.9 231,864.2 233.3,863.6 235.5,862.9 237.8,862.1 240.4,861.3 242.8,860.5 244.8,860.1 246.1,860.2 246.4,860.4 246.5,860.8 246.5,861.2 246.6,861.6 246.6,862.1 246.7,863.0 246.7,864.1 246.7,865.3 246.8,866.5 246.8,867.6 246.8,868.8 246.8,869.9 246.9,871.0 246.9,872.1 247,873.2 247,874.3 247,875.4 247.1,876.5 247.1,877.6 247.1,878.7 247.2,879.8 247.2,880.9 247.2,881.9 247.2,883.1 247.3,884.3 247.4,886.4 247.5,888.7 247.7,891.1 248,893.4 248.5,895.3 249,896.3 249.5,897.2 250.1,898.0 250.8,898.8 251.5,899.5 252.4,900.2 253.3,900.9 254.3,901.6 255.4,902.2 256.4,902.7 257.3,903.1 258.3,903.5 259.2,903.9 260.2,904.2 261.3,904.4 262.9,904.7 264.7,904.9 266.5,905.0 268.1,904.9 269.2,904.4 269.7,903.7 269.9,902.7 269.9,901.5 269.8,900.3 269.9,899.0 270.1,897.2 270.2,895.1 270.3,893.0 270.6,890.9 271.1,889.2 271.7,888.0 272.3,887.0 273.1,886.1 273.9,885.2 274.8,884.3 275.9,883.4 277.1,882.5 278.4,881.7 279.7,880.9 281,880.1 282.4,879.1 283.9,878.2 285.3,877.2 286.8,876.2 288.4,875.2 290.3,874.0 292.2,872.8 294.2,871.7 296.2,870.5 298.2,869.5 300.1,868.6 302,867.9 303.9,867.1 305.7,866.5 307.4,865.8 308.8,865.2 310.2,864.5 311.6,863.8 312.7,863.4 313.5,863.4 313.8,863.5 313.9,863.7 314.1,864.0 314.2,864.3 314.3,864.6 314.4,865.4 314.5,866.3 314.5,867.4 314.5,868.5 314.5,869.5 314.5,870.5 314.6,871.5 314.6,872.5 314.6,873.5 314.7,874.4 314.7,875.4 314.7,876.4 314.8,877.4 314.8,878.4 314.8,879.4 314.9,880.3 314.9,881.3 314.9,882.3 315,883.3 315,884.3 315,885.2 315.1,886.1 315.1,887.0 315.1,888.0 315.2,889.2 315.3,892.0 315.4,895.6 315.6,899.4 315.9,902.8 316.5,905.2 316.8,905.9 317.1,906.4 317.5,906.8 317.9,907.2 318.4,907.6 319.4,908.3 320.7,908.9 322,909.5 323.4,910.1 324.6,910.6 325.4,910.9 326.1,911.2 326.7,911.4 327.5,911.6 328.3,911.8 329.9,912.0 331.9,912.3 333.9,912.4 335.7,912.3 336.9,911.8 337.3,911.2 337.5,910.4 337.5,909.6 337.5,908.6 337.6,907.6 337.8,906.1 337.9,904.3 338.1,902.5 338.4,900.7 338.8,899.0 339.4,897.4 340.2,895.9 341,894.4 342,893.0 343,891.6 344.1,890.3 345.2,889.1 346.5,887.9 347.8,886.7 349.2,885.5 351,884.0 352.9,882.5 354.8,881.0 356.9,879.5 359,878.1 361.4,876.6 363.9,875.1 366.4,873.7 368.9,872.4 371.3,871.2 373.3,870.2 375.4,869.2 377.4,868.4 379.1,867.9 380.3,867.9 380.7,868.2 381,868.6 381.3,869.2 381.4,869.8 381.6,870.4 381.8,871.4 381.8,872.5 381.8,873.7 381.8,874.9 381.8,876.0 381.9,877.2 381.9,878.3 382,879.4 382,880.6 382.1,881.7 382.1,882.8 382.2,883.9 382.2,885.1 382.3,886.2 382.3,887.3 382.4,888.5 382.4,889.6 382.5,890.7 382.5,891.8 382.6,893.0 382.6,894.1 382.7,895.2 382.7,896.4 382.8,897.5 382.8,898.6 382.9,899.7 382.9,900.9 383,902.0 383,903.1 383.1,904.3 383.1,905.4 383.1,906.5 383.1,907.6 383.2,908.7 383.3,909.9 383.5,911.4 383.7,913.0 384,914.6 384.5,916.1 385.3,917.3 386.4,918.3 387.8,919.0 389.3,919.6 391,920.1 392.7,920.5 395.2,921.1 398,921.7 400.9,922.2 403.4,922.2 405,921.7 405.5,920.9 405.6,919.8 405.6,918.6 405.4,917.3 405.4,916.1 405.5,915.0 405.6,913.9 405.7,912.7 405.8,911.6 405.9,910.5 405.9,909.4 405.9,908.2 405.9,907.1 406,906.0 406.3,904.9 407,903.7 408.1,902.5 409.3,901.4 410.6,900.2 411.9,899.0 413.4,897.4 415,895.7 416.6,893.9 418.2,892.2 419.9,890.6 421.5,889.2 423.2,887.8 424.9,886.5 426.7,885.3 428.5,884.0 430.6,882.6 432.8,881.2 435.1,879.8 437.3,878.5 439.6,877.3 441.7,876.2 443.8,875.0 445.9,874.0 448,873.2 450.2,872.8 452.5,872.9 454.8,873.5 457.1,874.3 459.4,875.2 461.8,876.0 464.3,876.7 466.8,877.5 469.4,878.2 471.8,878.9 474.2,879.5 476.3,879.9 478.7,880.3 480.8,880.7 482.4,880.9 483,881.0" fill="none" stroke="#0000b8" stroke-width="1.3" stroke-linejoin="round" stroke-linecap="round"/>
<text class="t" transform="translate(165.96,11.2) scale(0.9749,1)" font-size="16.8" font-weight="bold">Nitrogen dioxide <tspan font-weight="normal" stroke="#000" stroke-width="0.3">(NO<tspan font-size="10.5" dy="4.2">2</tspan><tspan dy="-4.2">)</tspan></tspan></text>
<text class="t" transform="translate(182.94,359.3) scale(1.0539,1)" font-size="16.2" font-weight="bold">Ethanol <tspan font-weight="normal" stroke="#000" stroke-width="0.3">(C<tspan font-size="10.5" dy="4.2">2</tspan><tspan dy="-4.2">H</tspan><tspan font-size="10.5" dy="4.2">5</tspan><tspan dy="-4.2">OH)</tspan></tspan></text>
<text class="t" transform="translate(176.02,714.8) scale(1.0388,1)" font-size="16.2" font-weight="bold">Sulfur dioxide <tspan font-weight="normal" stroke="#000" stroke-width="0.3">(SO<tspan font-size="10.5" dy="4.2">2</tspan><tspan dy="-4.2">)</tspan></tspan></text>
<text transform="translate(100.1,63.05)" font-size="20" font-weight="bold">(</text>
<text transform="translate(107.31,62.3) scale(0.9829,1)" font-size="19" font-weight="bold">a</text>
<text transform="translate(117.15,63.05)" font-size="20" font-weight="bold">)</text>
<text transform="translate(104.2,420.75)" font-size="20" font-weight="bold">(</text>
<text transform="translate(112.27,421.4) scale(0.9333,1)" font-size="19.5" font-weight="bold">b</text>
<text transform="translate(123.55,420.75)" font-size="20" font-weight="bold">)</text>
<text transform="translate(103.1,766.55)" font-size="20.5" font-weight="bold">(</text>
<text transform="translate(110.02,766.4) scale(1.0776,1)" font-size="20.5" font-weight="bold">C</text>
<text transform="translate(125.3,766.3)" font-size="20.5" font-weight="bold">)</text>
<text transform="translate(141.86,62.8) scale(0.9740,1)" font-size="13.3" font-weight="bold">Pure ZnO sensor</text>
<text transform="translate(373.85,420.5) scale(0.9927,1)" font-size="13.3" font-weight="bold">Pure ZnO sensor</text>
<text transform="translate(365.35,770.8)" font-size="13.3" font-weight="bold">Pure ZnO sensor</text>
<text transform="translate(104.86,254.4) scale(0.9663,1)" font-size="15.8" stroke="#000" stroke-width="0.6">NO</text>
<text transform="translate(127.4,257.25) scale(0.9556,1)" font-size="9.5" stroke="#000" stroke-width="0.6">2</text>
<text transform="translate(134.68,253.05) scale(1.0316,1)" font-size="16.5" stroke="#000" stroke-width="0.6">(</text>
<text class="t" transform="translate(143.97,252.8) scale(0.9048,1)" font-size="16.5" font-weight="bold">ppm</text>
<text transform="translate(176.68,252.95) scale(0.8842,1)" font-size="16.5" stroke="#000" stroke-width="0.6">)</text>
<text transform="translate(110.05,618.6)" font-size="16" stroke="#000" stroke-width="0.6">C</text>
<text transform="translate(121.21,622.05) scale(0.7789,1)" font-size="10.5" stroke="#000" stroke-width="0.6">2</text>
<text transform="translate(125.43,618.6) scale(1.0933,1)" font-size="16" stroke="#000" stroke-width="0.6">H</text>
<text transform="translate(137.97,622.05) scale(0.9000,1)" font-size="10.5" stroke="#000" stroke-width="0.6">5</text>
<text transform="translate(142.64,618.6) scale(1.0286,1)" font-size="16" stroke="#000" stroke-width="0.6">OH</text>
<text transform="translate(173.91,618.05) scale(0.7789,1)" font-size="16.5" stroke="#000" stroke-width="0.6">(</text>
<text class="t" transform="translate(181.47,617.4) scale(0.9175,1)" font-size="16.5" font-weight="bold">ppm</text>
<text transform="translate(215.87,618.05) scale(0.9053,1)" font-size="16.5" stroke="#000" stroke-width="0.6">)</text>
<text transform="translate(106.14,964.8) scale(1.0177,1)" font-size="16" font-weight="bold">SO</text>
<text transform="translate(127.17,967.75) scale(0.9111,1)" font-size="10" stroke="#000" stroke-width="0.6">2</text>
<text transform="translate(132.14,963.75) scale(1.1158,1)" font-size="16.5" stroke="#000" stroke-width="0.6">(</text>
<text class="t" transform="translate(142.67,964.4) scale(0.9175,1)" font-size="16.5" font-weight="bold">ppm</text>
<text transform="translate(176.02,964.05) scale(1.1368,1)" font-size="16.5" stroke="#000" stroke-width="0.6">)</text>
<text transform="translate(251.64,331.3) scale(1.0390,1)" font-size="20" font-weight="bold">time (s)</text>
<text transform="translate(253.75,694.1) scale(1.0056,1)" font-size="20" font-weight="bold">time (s)</text>
<text transform="translate(246.74,1048.8) scale(1.0454,1)" font-size="20" font-weight="bold">time (s)</text>
<text transform="translate(13.8,229.17) rotate(-90) scale(1.0787,1)" font-size="20.5" font-weight="bold">Resistance</text>
<text transform="translate(13.8,123.98) rotate(-90) scale(1.0787,1)" font-size="20.5" font-weight="bold">(</text>
<text transform="translate(15,113.9) rotate(-90) scale(1.1040,1)" font-size="19.5">&#937;</text>
<text transform="translate(13.8,93.57) rotate(-90) scale(1.0787,1)" font-size="20.5" font-weight="bold">)</text>
<text transform="translate(13.8,583.96) rotate(-90) scale(1.0546,1)" font-size="20.5" font-weight="bold">Resistance</text>
<text transform="translate(13.8,480.85) rotate(-90) scale(1.0546,1)" font-size="20.5" font-weight="bold">(</text>
<text transform="translate(14.8,471.85) rotate(-90) scale(1.1520,1)" font-size="19.5">&#937;</text>
<text transform="translate(13.8,452.43) rotate(-90) scale(1.0546,1)" font-size="20.5" font-weight="bold">)</text>
<text transform="translate(16,939.88) rotate(-90) scale(1.1115,1)" font-size="20.5" font-weight="bold">Resistance</text>
<text transform="translate(16,831.01) rotate(-90) scale(1.1115,1)" font-size="20.5" font-weight="bold">(</text>
<text transform="translate(15.8,819.98) rotate(-90) scale(1.1840,1)" font-size="19.5">&#937;</text>
<text transform="translate(16,799.67) rotate(-90) scale(1.1115,1)" font-size="20.5" font-weight="bold">)</text>
<text transform="translate(131.7,179.5) scale(0.95,1)" text-anchor="middle" font-weight="bold" font-size="13.5">1</text>
<text transform="translate(185,115.4) scale(0.95,1)" text-anchor="middle" font-weight="bold" font-size="13.5">5</text>
<text transform="translate(241.15,92) scale(0.95,1)" text-anchor="middle" font-weight="bold" font-size="13.5">10</text>
<text transform="translate(299,71.85) scale(0.95,1)" text-anchor="middle" font-weight="bold" font-size="13.5">20</text>
<text transform="translate(354.6,62.2) scale(0.95,1)" text-anchor="middle" font-weight="bold" font-size="13.5">30</text>
<text transform="translate(411.8,58) scale(0.95,1)" text-anchor="middle" font-weight="bold" font-size="13.5">50</text>
<text transform="translate(128.6,531.9) scale(0.95,1)" text-anchor="middle" font-weight="bold" font-size="13.5">50</text>
<text transform="translate(182.3,552.4) scale(0.95,1)" text-anchor="middle" font-weight="bold" font-size="13.5">100</text>
<text transform="translate(236.5,574.2) scale(0.95,1)" text-anchor="middle" font-weight="bold" font-size="13.5">200</text>
<text transform="translate(288.6,583.8) scale(0.95,1)" text-anchor="middle" font-weight="bold" font-size="13.5">300</text>
<text transform="translate(340.5,599.7) scale(0.95,1)" text-anchor="middle" font-weight="bold" font-size="13.5">500</text>
<text transform="translate(389.3,618.2) scale(0.95,1)" text-anchor="middle" font-weight="bold" font-size="13.5">1000</text>
<text transform="translate(126.8,904) scale(0.95,1)" text-anchor="middle" font-weight="bold" font-size="13.5">10</text>
<text transform="translate(193.5,916.2) scale(0.95,1)" text-anchor="middle" font-weight="bold" font-size="13.5">50</text>
<text transform="translate(262.8,925.4) scale(0.95,1)" text-anchor="middle" font-weight="bold" font-size="13.5">100</text>
<text transform="translate(329.7,935.2) scale(0.95,1)" text-anchor="middle" font-weight="bold" font-size="13.5">200</text>
<text transform="translate(398.9,944.4) scale(0.95,1)" text-anchor="middle" font-weight="bold" font-size="13.5">500</text>
</svg></body></html>
